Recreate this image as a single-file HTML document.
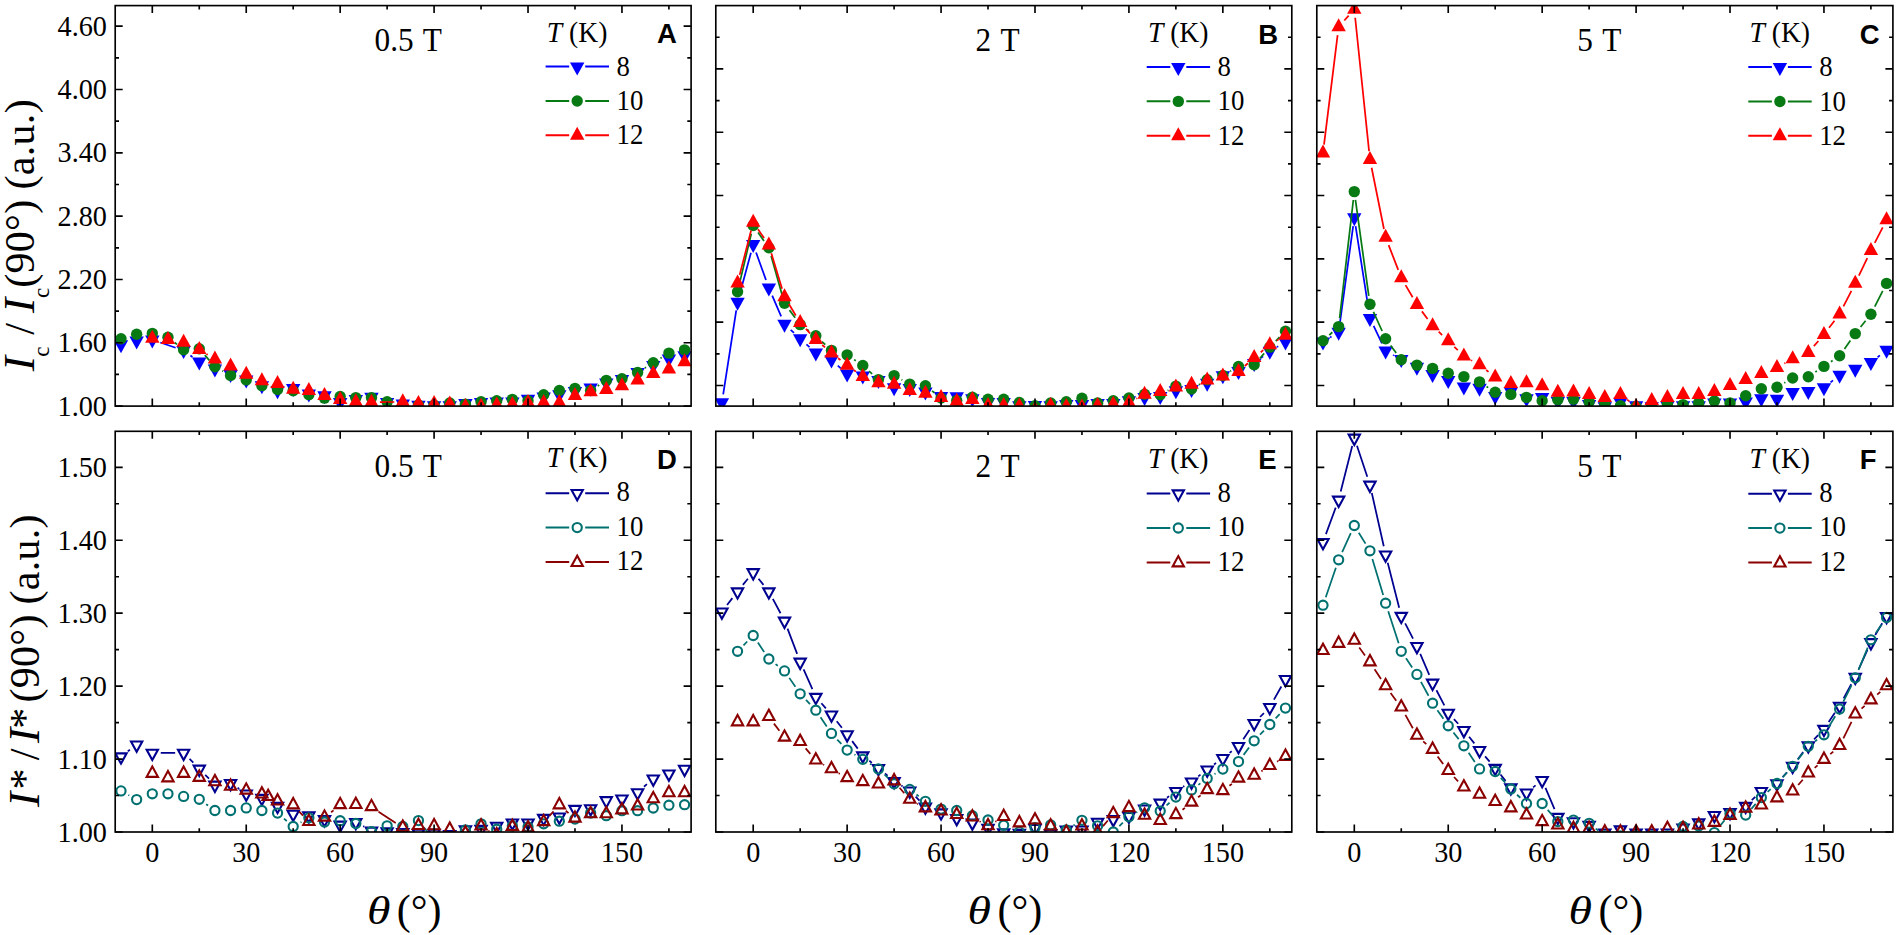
<!DOCTYPE html>
<html><head><meta charset="utf-8"><title>Figure</title>
<style>
html,body{margin:0;padding:0;background:#fff}
svg{display:block}
text{font-family:"Liberation Serif", "Times New Roman", serif;fill:#000}
.tk{font-size:28.2px}
.ft{font-size:31.3px}
.lg{font-size:26.8px}
.at{font-size:42px}
.sub{font-size:24px}
.pl{font-family:"Liberation Sans", Arial, sans-serif;font-weight:bold;font-size:27.5px}
</style></head><body>
<svg width="1900" height="935" viewBox="0 0 1900 935">
<rect width="1900" height="935" fill="#fff"/>
<defs>
<clipPath id="c00"><rect x="115.2" y="5.6" width="575.9" height="400.5"/></clipPath>
<clipPath id="c01"><rect x="115.2" y="431.3" width="575.9" height="400.7"/></clipPath>
<clipPath id="c10"><rect x="715.8" y="5.6" width="576" height="400.5"/></clipPath>
<clipPath id="c11"><rect x="715.8" y="431.3" width="576" height="400.7"/></clipPath>
<clipPath id="c20"><rect x="1316.8" y="5.6" width="576.1" height="400.5"/></clipPath>
<clipPath id="c21"><rect x="1316.8" y="431.3" width="576.1" height="400.7"/></clipPath>
</defs>
<g clip-path="url(#c00)">
<path d="M160.3 342.54L175.61 347.72M190.4 355.46L192.48 357" fill="none" stroke="#0000ff" stroke-width="1.75"/>
<path d="M113.79 340.2L128.19 340.2L120.99 353.2Z" fill="#0000ff"/>
<path d="M129.45 336.6L143.84 336.6L136.65 349.6Z" fill="#0000ff"/>
<path d="M145.1 335.4L159.5 335.4L152.3 348.4Z" fill="#0000ff"/>
<path d="M176.41 346L190.81 346L183.61 359Z" fill="#0000ff"/>
<path d="M192.07 357.6L206.47 357.6L199.27 370.6Z" fill="#0000ff"/>
<path d="M207.72 364.6L222.12 364.6L214.92 377.6Z" fill="#0000ff"/>
<path d="M223.38 370L237.77 370L230.57 383Z" fill="#0000ff"/>
<path d="M239.03 375.5L253.43 375.5L246.23 388.5Z" fill="#0000ff"/>
<path d="M254.69 381.3L269.08 381.3L261.88 394.3Z" fill="#0000ff"/>
<path d="M270.34 386.2L284.74 386.2L277.54 399.2Z" fill="#0000ff"/>
<path d="M286 383.9L300.39 383.9L293.19 396.9Z" fill="#0000ff"/>
<path d="M301.65 389.5L316.05 389.5L308.85 402.5Z" fill="#0000ff"/>
<path d="M317.31 391.2L331.7 391.2L324.5 404.2Z" fill="#0000ff"/>
<path d="M332.96 398L347.36 398L340.16 411Z" fill="#0000ff"/>
<path d="M348.62 394.9L363.01 394.9L355.81 407.9Z" fill="#0000ff"/>
<path d="M364.27 392.8L378.67 392.8L371.47 405.8Z" fill="#0000ff"/>
<path d="M379.93 398L394.32 398L387.12 411Z" fill="#0000ff"/>
<path d="M395.58 399.6L409.98 399.6L402.78 412.6Z" fill="#0000ff"/>
<path d="M411.24 400.7L425.63 400.7L418.44 413.7Z" fill="#0000ff"/>
<path d="M426.89 401.2L441.29 401.2L434.09 414.2Z" fill="#0000ff"/>
<path d="M442.55 401.2L456.94 401.2L449.75 414.2Z" fill="#0000ff"/>
<path d="M458.2 399.1L472.6 399.1L465.4 412.1Z" fill="#0000ff"/>
<path d="M473.86 398L488.25 398L481.06 411Z" fill="#0000ff"/>
<path d="M489.51 397.5L503.91 397.5L496.71 410.5Z" fill="#0000ff"/>
<path d="M505.17 397.5L519.57 397.5L512.37 410.5Z" fill="#0000ff"/>
<path d="M520.82 394.8L535.22 394.8L528.02 407.8Z" fill="#0000ff"/>
<path d="M536.47 392.5L550.88 392.5L543.67 405.5Z" fill="#0000ff"/>
<path d="M552.13 390.3L566.53 390.3L559.33 403.3Z" fill="#0000ff"/>
<path d="M567.78 387.1L582.18 387.1L574.98 400.1Z" fill="#0000ff"/>
<path d="M583.44 383.4L597.84 383.4L590.64 396.4Z" fill="#0000ff"/>
<path d="M599.09 378.6L613.5 378.6L606.29 391.6Z" fill="#0000ff"/>
<path d="M614.75 375L629.15 375L621.95 388Z" fill="#0000ff"/>
<path d="M630.4 367.9L644.81 367.9L637.61 380.9Z" fill="#0000ff"/>
<path d="M646.06 360.9L660.46 360.9L653.26 373.9Z" fill="#0000ff"/>
<path d="M661.71 354.5L676.12 354.5L668.91 367.5Z" fill="#0000ff"/>
<path d="M677.37 351.3L691.77 351.3L684.57 364.3Z" fill="#0000ff"/>
<path d="M174.56 342.47L177.01 344.43M204.81 355.18L209.37 360.42M222.33 370.87L223.17 371.33M597.74 385.92L599.19 384.98M644.79 367.95L646.08 367.15M660.46 358.28L661.71 357.52" fill="none" stroke="#087a14" stroke-width="1.75"/>
<circle cx="120.99" cy="338.8" r="5.7" fill="#087a14"/>
<circle cx="136.65" cy="334.3" r="5.7" fill="#087a14"/>
<circle cx="152.3" cy="333.4" r="5.7" fill="#087a14"/>
<circle cx="167.96" cy="337.2" r="5.7" fill="#087a14"/>
<circle cx="183.61" cy="349.7" r="5.7" fill="#087a14"/>
<circle cx="199.27" cy="348.8" r="5.7" fill="#087a14"/>
<circle cx="214.92" cy="366.8" r="5.7" fill="#087a14"/>
<circle cx="230.57" cy="375.4" r="5.7" fill="#087a14"/>
<circle cx="246.23" cy="379.9" r="5.7" fill="#087a14"/>
<circle cx="261.88" cy="385.6" r="5.7" fill="#087a14"/>
<circle cx="277.54" cy="389.5" r="5.7" fill="#087a14"/>
<circle cx="293.19" cy="390.8" r="5.7" fill="#087a14"/>
<circle cx="308.85" cy="394.6" r="5.7" fill="#087a14"/>
<circle cx="324.5" cy="398.1" r="5.7" fill="#087a14"/>
<circle cx="340.16" cy="396.5" r="5.7" fill="#087a14"/>
<circle cx="355.81" cy="397.6" r="5.7" fill="#087a14"/>
<circle cx="371.47" cy="397.6" r="5.7" fill="#087a14"/>
<circle cx="387.12" cy="401.8" r="5.7" fill="#087a14"/>
<circle cx="402.78" cy="405" r="5.7" fill="#087a14"/>
<circle cx="418.44" cy="405" r="5.7" fill="#087a14"/>
<circle cx="434.09" cy="405" r="5.7" fill="#087a14"/>
<circle cx="449.75" cy="403" r="5.7" fill="#087a14"/>
<circle cx="465.4" cy="404.1" r="5.7" fill="#087a14"/>
<circle cx="481.06" cy="401.8" r="5.7" fill="#087a14"/>
<circle cx="496.71" cy="400.7" r="5.7" fill="#087a14"/>
<circle cx="512.37" cy="399.4" r="5.7" fill="#087a14"/>
<circle cx="528.02" cy="400.7" r="5.7" fill="#087a14"/>
<circle cx="543.67" cy="394.8" r="5.7" fill="#087a14"/>
<circle cx="559.33" cy="390.5" r="5.7" fill="#087a14"/>
<circle cx="574.98" cy="388.4" r="5.7" fill="#087a14"/>
<circle cx="590.64" cy="390.5" r="5.7" fill="#087a14"/>
<circle cx="606.29" cy="380.4" r="5.7" fill="#087a14"/>
<circle cx="621.95" cy="378.8" r="5.7" fill="#087a14"/>
<circle cx="637.61" cy="372.4" r="5.7" fill="#087a14"/>
<circle cx="653.26" cy="362.7" r="5.7" fill="#087a14"/>
<circle cx="668.91" cy="353.1" r="5.7" fill="#087a14"/>
<circle cx="684.57" cy="349.9" r="5.7" fill="#087a14"/>
<path d="M206.47 353.89L207.72 354.65M379.92 402.24L394.33 402" fill="none" stroke="#ff0000" stroke-width="1.75"/>
<path d="M145.1 342.7L159.5 342.7L152.3 329.7Z" fill="#ff0000"/>
<path d="M160.76 344L175.16 344L167.96 331Z" fill="#ff0000"/>
<path d="M176.41 346.8L190.81 346.8L183.61 333.8Z" fill="#ff0000"/>
<path d="M192.07 353.9L206.47 353.9L199.27 340.9Z" fill="#ff0000"/>
<path d="M207.72 363.5L222.12 363.5L214.92 350.5Z" fill="#ff0000"/>
<path d="M223.38 370.6L237.77 370.6L230.57 357.6Z" fill="#ff0000"/>
<path d="M239.03 378.7L253.43 378.7L246.23 365.7Z" fill="#ff0000"/>
<path d="M254.69 385.3L269.08 385.3L261.88 372.3Z" fill="#ff0000"/>
<path d="M270.34 387.9L284.74 387.9L277.54 374.9Z" fill="#ff0000"/>
<path d="M286 393.7L300.39 393.7L293.19 380.7Z" fill="#ff0000"/>
<path d="M301.65 395.1L316.05 395.1L308.85 382.1Z" fill="#ff0000"/>
<path d="M317.31 400L331.7 400L324.5 387Z" fill="#ff0000"/>
<path d="M332.96 404.1L347.36 404.1L340.16 391.1Z" fill="#ff0000"/>
<path d="M348.62 406.3L363.01 406.3L355.81 393.3Z" fill="#ff0000"/>
<path d="M364.27 406.8L378.67 406.8L371.47 393.8Z" fill="#ff0000"/>
<path d="M395.58 406.3L409.98 406.3L402.78 393.3Z" fill="#ff0000"/>
<path d="M411.24 407.9L425.63 407.9L418.44 394.9Z" fill="#ff0000"/>
<path d="M426.89 408.1L441.29 408.1L434.09 395.1Z" fill="#ff0000"/>
<path d="M442.55 408.4L456.94 408.4L449.75 395.4Z" fill="#ff0000"/>
<path d="M458.2 411L472.6 411L465.4 398Z" fill="#ff0000"/>
<path d="M473.86 410.8L488.25 410.8L481.06 397.8Z" fill="#ff0000"/>
<path d="M489.51 409.4L503.91 409.4L496.71 396.4Z" fill="#ff0000"/>
<path d="M505.17 409L519.57 409L512.37 396Z" fill="#ff0000"/>
<path d="M520.82 407.1L535.22 407.1L528.02 394.1Z" fill="#ff0000"/>
<path d="M536.47 407.1L550.88 407.1L543.67 394.1Z" fill="#ff0000"/>
<path d="M552.13 407.1L566.53 407.1L559.33 394.1Z" fill="#ff0000"/>
<path d="M567.78 400L582.18 400L574.98 387Z" fill="#ff0000"/>
<path d="M583.44 396.2L597.84 396.2L590.64 383.2Z" fill="#ff0000"/>
<path d="M599.09 394.1L613.5 394.1L606.29 381.1Z" fill="#ff0000"/>
<path d="M614.75 390.3L629.15 390.3L621.95 377.3Z" fill="#ff0000"/>
<path d="M630.4 384.5L644.81 384.5L637.61 371.5Z" fill="#ff0000"/>
<path d="M646.06 378.1L660.46 378.1L653.26 365.1Z" fill="#ff0000"/>
<path d="M661.71 373.4L676.12 373.4L668.91 360.4Z" fill="#ff0000"/>
<path d="M677.37 366.2L691.77 366.2L684.57 353.2Z" fill="#ff0000"/>
</g>
<path d="M152.3 5.6v7.5M152.3 406.1v-7.5M199.27 5.6v3.8M199.27 406.1v-3.8M246.23 5.6v7.5M246.23 406.1v-7.5M293.19 5.6v3.8M293.19 406.1v-3.8M340.16 5.6v7.5M340.16 406.1v-7.5M387.12 5.6v3.8M387.12 406.1v-3.8M434.09 5.6v7.5M434.09 406.1v-7.5M481.06 5.6v3.8M481.06 406.1v-3.8M528.02 5.6v7.5M528.02 406.1v-7.5M574.98 5.6v3.8M574.98 406.1v-3.8M621.95 5.6v7.5M621.95 406.1v-7.5M668.91 5.6v3.8M668.91 406.1v-3.8M115.2 406.1h7.5M691.1 406.1h-7.5M115.2 374.44h3.8M691.1 374.44h-3.8M115.2 342.78h7.5M691.1 342.78h-7.5M115.2 311.12h3.8M691.1 311.12h-3.8M115.2 279.46h7.5M691.1 279.46h-7.5M115.2 247.8h3.8M691.1 247.8h-3.8M115.2 216.14h7.5M691.1 216.14h-7.5M115.2 184.48h3.8M691.1 184.48h-3.8M115.2 152.82h7.5M691.1 152.82h-7.5M115.2 121.16h3.8M691.1 121.16h-3.8M115.2 89.5h7.5M691.1 89.5h-7.5M115.2 57.84h3.8M691.1 57.84h-3.8M115.2 26.18h7.5M691.1 26.18h-7.5" stroke="#000" stroke-width="1.65" fill="none"/>
<rect x="115.2" y="5.6" width="575.9" height="400.5" fill="none" stroke="#000" stroke-width="1.65"/>
<text transform="translate(106.9 415.7) scale(1 1.06)" text-anchor="end" class="tk">1.00</text>
<text transform="translate(106.9 352.38) scale(1 1.06)" text-anchor="end" class="tk">1.60</text>
<text transform="translate(106.9 289.06) scale(1 1.06)" text-anchor="end" class="tk">2.20</text>
<text transform="translate(106.9 225.74) scale(1 1.06)" text-anchor="end" class="tk">2.80</text>
<text transform="translate(106.9 162.42) scale(1 1.06)" text-anchor="end" class="tk">3.40</text>
<text transform="translate(106.9 99.1) scale(1 1.06)" text-anchor="end" class="tk">4.00</text>
<text transform="translate(106.9 35.78) scale(1 1.06)" text-anchor="end" class="tk">4.60</text>
<text transform="translate(374.5 50.8) scale(1 1.1)" class="ft">0.5 <tspan dx="1.35">T</tspan></text>
<text transform="translate(546.8 41.5) scale(1 1.04)" class="lg" style="font-size:27.6px"><tspan font-style="italic">T</tspan> (K)</text>
<path d="M545.6 66.5H569.2M585.2 66.5H609" stroke="#0000ff" stroke-width="2.0"/>
<path d="M570 62.6L584.4 62.6L577.2 75.6Z" fill="#0000ff"/>
<text transform="translate(616.5 75.6) scale(1 1.08)" class="lg">8</text>
<path d="M545.6 100.9H569.2M585.2 100.9H609" stroke="#087a14" stroke-width="2.0"/>
<circle cx="577.2" cy="101" r="5.7" fill="#087a14"/>
<text transform="translate(616.5 110) scale(1 1.08)" class="lg">10</text>
<path d="M545.6 135.3H569.2M585.2 135.3H609" stroke="#ff0000" stroke-width="2.0"/>
<path d="M570 139.8L584.4 139.8L577.2 126.8Z" fill="#ff0000"/>
<text transform="translate(616.5 144.4) scale(1 1.08)" class="lg">12</text>
<text x="657.1" y="43.2" class="pl">A</text>
<g clip-path="url(#c10)">
<path d="M723.19 394.38L736.25 310.48M739.76 293.98L750.98 252.68M756.07 252.48L765.99 279.98M772.21 295.69L781.16 316.37M790.69 329.89L793.99 332.97M806.44 344.39L809.54 347.17M837.79 365.64L840.81 368.32M1260.85 358.16L1263.13 356.4M1277.08 346.91L1278.21 346.25" fill="none" stroke="#0000ff" stroke-width="1.75"/>
<path d="M714.69 398.3L729.09 398.3L721.89 411.3Z" fill="#0000ff"/>
<path d="M730.35 297.7L744.75 297.7L737.55 310.7Z" fill="#0000ff"/>
<path d="M746 240.1L760.4 240.1L753.2 253.1Z" fill="#0000ff"/>
<path d="M761.65 283.5L776.06 283.5L768.86 296.5Z" fill="#0000ff"/>
<path d="M777.31 319.7L791.71 319.7L784.51 332.7Z" fill="#0000ff"/>
<path d="M792.97 334.3L807.37 334.3L800.17 347.3Z" fill="#0000ff"/>
<path d="M808.62 348.4L823.02 348.4L815.82 361.4Z" fill="#0000ff"/>
<path d="M824.27 355.6L838.68 355.6L831.48 368.6Z" fill="#0000ff"/>
<path d="M839.93 369.5L854.33 369.5L847.13 382.5Z" fill="#0000ff"/>
<path d="M855.59 371.5L869.99 371.5L862.79 384.5Z" fill="#0000ff"/>
<path d="M871.24 376L885.64 376L878.44 389Z" fill="#0000ff"/>
<path d="M886.89 383.2L901.3 383.2L894.1 396.2Z" fill="#0000ff"/>
<path d="M902.55 383.9L916.95 383.9L909.75 396.9Z" fill="#0000ff"/>
<path d="M918.2 387.6L932.61 387.6L925.4 400.6Z" fill="#0000ff"/>
<path d="M933.86 391.9L948.26 391.9L941.06 404.9Z" fill="#0000ff"/>
<path d="M949.51 392.2L963.92 392.2L956.72 405.2Z" fill="#0000ff"/>
<path d="M965.17 394.3L979.57 394.3L972.37 407.3Z" fill="#0000ff"/>
<path d="M980.83 398L995.23 398L988.03 411Z" fill="#0000ff"/>
<path d="M996.48 398L1010.88 398L1003.68 411Z" fill="#0000ff"/>
<path d="M1012.13 401.2L1026.54 401.2L1019.34 414.2Z" fill="#0000ff"/>
<path d="M1027.79 401L1042.19 401L1034.99 414Z" fill="#0000ff"/>
<path d="M1043.44 401.2L1057.85 401.2L1050.64 414.2Z" fill="#0000ff"/>
<path d="M1059.1 400.1L1073.5 400.1L1066.3 413.1Z" fill="#0000ff"/>
<path d="M1074.75 400.1L1089.15 400.1L1081.95 413.1Z" fill="#0000ff"/>
<path d="M1090.41 399.1L1104.81 399.1L1097.61 412.1Z" fill="#0000ff"/>
<path d="M1106.07 399L1120.47 399L1113.27 412Z" fill="#0000ff"/>
<path d="M1121.72 396.2L1136.12 396.2L1128.92 409.2Z" fill="#0000ff"/>
<path d="M1137.38 393.1L1151.78 393.1L1144.58 406.1Z" fill="#0000ff"/>
<path d="M1153.03 392.1L1167.43 392.1L1160.23 405.1Z" fill="#0000ff"/>
<path d="M1168.68 386.2L1183.09 386.2L1175.88 399.2Z" fill="#0000ff"/>
<path d="M1184.34 385.1L1198.74 385.1L1191.54 398.1Z" fill="#0000ff"/>
<path d="M1199.99 378.7L1214.39 378.7L1207.19 391.7Z" fill="#0000ff"/>
<path d="M1215.65 371.2L1230.05 371.2L1222.85 384.2Z" fill="#0000ff"/>
<path d="M1231.31 366.9L1245.71 366.9L1238.51 379.9Z" fill="#0000ff"/>
<path d="M1246.96 358.9L1261.36 358.9L1254.16 371.9Z" fill="#0000ff"/>
<path d="M1262.62 346.8L1277.02 346.8L1269.82 359.8Z" fill="#0000ff"/>
<path d="M1278.27 337.5L1292.67 337.5L1285.47 350.5Z" fill="#0000ff"/>
<path d="M739.49 283.58L751.26 233.72M758.06 232.42L764 240.88M771.15 255.93L782.22 295.17M789.51 310.11L795.16 317.79M807.04 329.52L808.95 330.88M822 341.56L825.3 344.64M854.13 359.64L855.79 360.76M869.06 371.16L872.16 373.94M901.52 379.63L902.32 380.07M932.05 390.92L934.42 392.78M1167.64 390.63L1168.48 390.17M1198.8 384.68L1199.93 384.02M1230.18 371.29L1231.18 370.71M1259.76 358.47L1264.22 353.43M1275.74 341.08L1279.54 337.22" fill="none" stroke="#087a14" stroke-width="1.75"/>
<circle cx="737.55" cy="291.8" r="5.7" fill="#087a14"/>
<circle cx="753.2" cy="225.5" r="5.7" fill="#087a14"/>
<circle cx="768.86" cy="247.8" r="5.7" fill="#087a14"/>
<circle cx="784.51" cy="303.3" r="5.7" fill="#087a14"/>
<circle cx="800.17" cy="324.6" r="5.7" fill="#087a14"/>
<circle cx="815.82" cy="335.8" r="5.7" fill="#087a14"/>
<circle cx="831.48" cy="350.4" r="5.7" fill="#087a14"/>
<circle cx="847.13" cy="354.9" r="5.7" fill="#087a14"/>
<circle cx="862.79" cy="365.5" r="5.7" fill="#087a14"/>
<circle cx="878.44" cy="379.6" r="5.7" fill="#087a14"/>
<circle cx="894.1" cy="375.6" r="5.7" fill="#087a14"/>
<circle cx="909.75" cy="384.1" r="5.7" fill="#087a14"/>
<circle cx="925.4" cy="385.7" r="5.7" fill="#087a14"/>
<circle cx="941.06" cy="398" r="5.7" fill="#087a14"/>
<circle cx="956.72" cy="400.5" r="5.7" fill="#087a14"/>
<circle cx="972.37" cy="397.3" r="5.7" fill="#087a14"/>
<circle cx="988.03" cy="399.2" r="5.7" fill="#087a14"/>
<circle cx="1003.68" cy="399.2" r="5.7" fill="#087a14"/>
<circle cx="1019.34" cy="402.5" r="5.7" fill="#087a14"/>
<circle cx="1034.99" cy="405.7" r="5.7" fill="#087a14"/>
<circle cx="1050.64" cy="403" r="5.7" fill="#087a14"/>
<circle cx="1066.3" cy="401.8" r="5.7" fill="#087a14"/>
<circle cx="1081.95" cy="398.3" r="5.7" fill="#087a14"/>
<circle cx="1097.61" cy="403" r="5.7" fill="#087a14"/>
<circle cx="1113.27" cy="400.7" r="5.7" fill="#087a14"/>
<circle cx="1128.92" cy="398" r="5.7" fill="#087a14"/>
<circle cx="1144.58" cy="394.2" r="5.7" fill="#087a14"/>
<circle cx="1160.23" cy="394.7" r="5.7" fill="#087a14"/>
<circle cx="1175.88" cy="386.1" r="5.7" fill="#087a14"/>
<circle cx="1191.54" cy="389" r="5.7" fill="#087a14"/>
<circle cx="1207.19" cy="379.7" r="5.7" fill="#087a14"/>
<circle cx="1222.85" cy="375.5" r="5.7" fill="#087a14"/>
<circle cx="1238.51" cy="366.5" r="5.7" fill="#087a14"/>
<circle cx="1254.16" cy="364.8" r="5.7" fill="#087a14"/>
<circle cx="1269.82" cy="347.1" r="5.7" fill="#087a14"/>
<circle cx="1285.47" cy="331.2" r="5.7" fill="#087a14"/>
<path d="M739.66 274.89L751.09 230.55M758 229.33L764.06 238.11M771.3 253.16L782.06 288.68M788.88 304L795.79 315.44M805.93 328.85L810.06 333.29M822.22 344.99L825.08 347.45M838.12 358.19L840.49 360.05M853.98 370.22L855.93 371.62M1136.37 398.67L1137.13 398.27M1244.78 366.01L1247.88 363.23M1260.72 352.25L1263.25 350.19M1277.02 340.45L1278.27 339.69" fill="none" stroke="#ff0000" stroke-width="1.75"/>
<path d="M730.35 287.5L744.75 287.5L737.55 274.5Z" fill="#ff0000"/>
<path d="M746 226.8L760.4 226.8L753.2 213.8Z" fill="#ff0000"/>
<path d="M761.65 249.5L776.06 249.5L768.86 236.5Z" fill="#ff0000"/>
<path d="M777.31 301.2L791.71 301.2L784.51 288.2Z" fill="#ff0000"/>
<path d="M792.97 327.1L807.37 327.1L800.17 314.1Z" fill="#ff0000"/>
<path d="M808.62 343.9L823.02 343.9L815.82 330.9Z" fill="#ff0000"/>
<path d="M824.27 357.4L838.68 357.4L831.48 344.4Z" fill="#ff0000"/>
<path d="M839.93 369.7L854.33 369.7L847.13 356.7Z" fill="#ff0000"/>
<path d="M855.59 381L869.99 381L862.79 368Z" fill="#ff0000"/>
<path d="M871.24 387.2L885.64 387.2L878.44 374.2Z" fill="#ff0000"/>
<path d="M886.89 388.8L901.3 388.8L894.1 375.8Z" fill="#ff0000"/>
<path d="M902.55 394.9L916.95 394.9L909.75 381.9Z" fill="#ff0000"/>
<path d="M918.2 397.8L932.61 397.8L925.4 384.8Z" fill="#ff0000"/>
<path d="M933.86 401.9L948.26 401.9L941.06 388.9Z" fill="#ff0000"/>
<path d="M949.51 405.8L963.92 405.8L956.72 392.8Z" fill="#ff0000"/>
<path d="M965.17 404.1L979.57 404.1L972.37 391.1Z" fill="#ff0000"/>
<path d="M980.83 410L995.23 410L988.03 397Z" fill="#ff0000"/>
<path d="M996.48 410L1010.88 410L1003.68 397Z" fill="#ff0000"/>
<path d="M1012.13 410.5L1026.54 410.5L1019.34 397.5Z" fill="#ff0000"/>
<path d="M1027.79 414.2L1042.19 414.2L1034.99 401.2Z" fill="#ff0000"/>
<path d="M1043.44 410L1057.85 410L1050.64 397Z" fill="#ff0000"/>
<path d="M1059.1 411L1073.5 411L1066.3 398Z" fill="#ff0000"/>
<path d="M1074.75 411.5L1089.15 411.5L1081.95 398.5Z" fill="#ff0000"/>
<path d="M1090.41 410L1104.81 410L1097.61 397Z" fill="#ff0000"/>
<path d="M1106.07 408.7L1120.47 408.7L1113.27 395.7Z" fill="#ff0000"/>
<path d="M1121.72 407.1L1136.12 407.1L1128.92 394.1Z" fill="#ff0000"/>
<path d="M1137.38 398.7L1151.78 398.7L1144.58 385.7Z" fill="#ff0000"/>
<path d="M1153.03 395.9L1167.43 395.9L1160.23 382.9Z" fill="#ff0000"/>
<path d="M1168.68 391.6L1183.09 391.6L1175.88 378.6Z" fill="#ff0000"/>
<path d="M1184.34 388.7L1198.74 388.7L1191.54 375.7Z" fill="#ff0000"/>
<path d="M1199.99 384.4L1214.39 384.4L1207.19 371.4Z" fill="#ff0000"/>
<path d="M1215.65 380.4L1230.05 380.4L1222.85 367.4Z" fill="#ff0000"/>
<path d="M1231.31 376.1L1245.71 376.1L1238.51 363.1Z" fill="#ff0000"/>
<path d="M1246.96 362L1261.36 362L1254.16 349Z" fill="#ff0000"/>
<path d="M1262.62 349.3L1277.02 349.3L1269.82 336.3Z" fill="#ff0000"/>
<path d="M1278.27 339.7L1292.67 339.7L1285.47 326.7Z" fill="#ff0000"/>
</g>
<path d="M753.2 5.6v7.5M753.2 406.1v-7.5M800.17 5.6v3.8M800.17 406.1v-3.8M847.13 5.6v7.5M847.13 406.1v-7.5M894.1 5.6v3.8M894.1 406.1v-3.8M941.06 5.6v7.5M941.06 406.1v-7.5M988.03 5.6v3.8M988.03 406.1v-3.8M1034.99 5.6v7.5M1034.99 406.1v-7.5M1081.95 5.6v3.8M1081.95 406.1v-3.8M1128.92 5.6v7.5M1128.92 406.1v-7.5M1175.88 5.6v3.8M1175.88 406.1v-3.8M1222.85 5.6v7.5M1222.85 406.1v-7.5M1269.82 5.6v3.8M1269.82 406.1v-3.8M715.8 385.5h7.5M1291.8 385.5h-7.5M715.8 353.84h3.8M1291.8 353.84h-3.8M715.8 322.18h7.5M1291.8 322.18h-7.5M715.8 290.52h3.8M1291.8 290.52h-3.8M715.8 258.86h7.5M1291.8 258.86h-7.5M715.8 227.2h3.8M1291.8 227.2h-3.8M715.8 195.54h7.5M1291.8 195.54h-7.5M715.8 163.88h3.8M1291.8 163.88h-3.8M715.8 132.22h7.5M1291.8 132.22h-7.5M715.8 100.56h3.8M1291.8 100.56h-3.8M715.8 68.9h7.5M1291.8 68.9h-7.5M715.8 37.24h3.8M1291.8 37.24h-3.8" stroke="#000" stroke-width="1.65" fill="none"/>
<rect x="715.8" y="5.6" width="576" height="400.5" fill="none" stroke="#000" stroke-width="1.65"/>
<text transform="translate(975.6 51.2) scale(1 1.1)" class="ft">2 <tspan dx="1.5">T</tspan></text>
<text transform="translate(1147.9 41.9) scale(1 1.04)" class="lg" style="font-size:27.6px"><tspan font-style="italic">T</tspan> (K)</text>
<path d="M1146.7 66.9H1170.3M1186.3 66.9H1210.1" stroke="#0000ff" stroke-width="2.0"/>
<path d="M1171.1 63L1185.5 63L1178.3 76Z" fill="#0000ff"/>
<text transform="translate(1217.6 76) scale(1 1.08)" class="lg">8</text>
<path d="M1146.7 101.3H1170.3M1186.3 101.3H1210.1" stroke="#087a14" stroke-width="2.0"/>
<circle cx="1178.3" cy="101.4" r="5.7" fill="#087a14"/>
<text transform="translate(1217.6 110.4) scale(1 1.08)" class="lg">10</text>
<path d="M1146.7 135.7H1170.3M1186.3 135.7H1210.1" stroke="#ff0000" stroke-width="2.0"/>
<path d="M1171.1 140.2L1185.5 140.2L1178.3 127.2Z" fill="#ff0000"/>
<text transform="translate(1217.6 144.8) scale(1 1.08)" class="lg">12</text>
<text x="1258.2" y="43.6" class="pl">B</text>
<g clip-path="url(#c20)">
<path d="M1330.15 337.45L1331.48 336.61M1339.79 323.76L1353.15 226.1M1355.6 226.08L1368.66 309.98M1373.61 325.95L1381.95 343.31M1393.04 354.96L1393.84 355.4M1830.53 382.43L1833.02 380.43M1877.58 357.24L1879.9 355.42" fill="none" stroke="#0000ff" stroke-width="1.75"/>
<path d="M1315.79 337.5L1330.19 337.5L1322.99 350.5Z" fill="#0000ff"/>
<path d="M1331.44 327.7L1345.85 327.7L1338.64 340.7Z" fill="#0000ff"/>
<path d="M1347.1 213.3L1361.5 213.3L1354.3 226.3Z" fill="#0000ff"/>
<path d="M1362.75 313.9L1377.15 313.9L1369.95 326.9Z" fill="#0000ff"/>
<path d="M1378.41 346.5L1392.81 346.5L1385.61 359.5Z" fill="#0000ff"/>
<path d="M1394.06 355L1408.46 355L1401.26 368Z" fill="#0000ff"/>
<path d="M1409.72 362.8L1424.12 362.8L1416.92 375.8Z" fill="#0000ff"/>
<path d="M1425.38 370L1439.78 370L1432.58 383Z" fill="#0000ff"/>
<path d="M1441.03 375.9L1455.43 375.9L1448.23 388.9Z" fill="#0000ff"/>
<path d="M1456.68 382.5L1471.09 382.5L1463.88 395.5Z" fill="#0000ff"/>
<path d="M1472.34 383.7L1486.74 383.7L1479.54 396.7Z" fill="#0000ff"/>
<path d="M1487.99 391.9L1502.39 391.9L1495.19 404.9Z" fill="#0000ff"/>
<path d="M1503.65 387.2L1518.05 387.2L1510.85 400.2Z" fill="#0000ff"/>
<path d="M1519.3 394.3L1533.7 394.3L1526.5 407.3Z" fill="#0000ff"/>
<path d="M1534.96 392.9L1549.36 392.9L1542.16 405.9Z" fill="#0000ff"/>
<path d="M1550.62 397L1565.02 397L1557.82 410Z" fill="#0000ff"/>
<path d="M1566.27 397L1580.67 397L1573.47 410Z" fill="#0000ff"/>
<path d="M1581.92 400.1L1596.33 400.1L1589.12 413.1Z" fill="#0000ff"/>
<path d="M1597.58 402.2L1611.98 402.2L1604.78 415.2Z" fill="#0000ff"/>
<path d="M1613.23 397.8L1627.63 397.8L1620.43 410.8Z" fill="#0000ff"/>
<path d="M1628.89 401.2L1643.29 401.2L1636.09 414.2Z" fill="#0000ff"/>
<path d="M1644.54 402.2L1658.94 402.2L1651.74 415.2Z" fill="#0000ff"/>
<path d="M1660.2 401.2L1674.6 401.2L1667.4 414.2Z" fill="#0000ff"/>
<path d="M1675.85 401.2L1690.25 401.2L1683.05 414.2Z" fill="#0000ff"/>
<path d="M1691.51 401.2L1705.91 401.2L1698.71 414.2Z" fill="#0000ff"/>
<path d="M1707.16 398.5L1721.57 398.5L1714.37 411.5Z" fill="#0000ff"/>
<path d="M1722.82 398.5L1737.22 398.5L1730.02 411.5Z" fill="#0000ff"/>
<path d="M1738.47 397.5L1752.88 397.5L1745.67 410.5Z" fill="#0000ff"/>
<path d="M1754.13 394.2L1768.53 394.2L1761.33 407.2Z" fill="#0000ff"/>
<path d="M1769.78 394.7L1784.18 394.7L1776.98 407.7Z" fill="#0000ff"/>
<path d="M1785.44 387.9L1799.84 387.9L1792.64 400.9Z" fill="#0000ff"/>
<path d="M1801.09 386.9L1815.49 386.9L1808.29 399.9Z" fill="#0000ff"/>
<path d="M1816.75 383.3L1831.15 383.3L1823.95 396.3Z" fill="#0000ff"/>
<path d="M1832.4 370.7L1846.81 370.7L1839.61 383.7Z" fill="#0000ff"/>
<path d="M1848.06 364.8L1862.46 364.8L1855.26 377.8Z" fill="#0000ff"/>
<path d="M1863.71 358L1878.12 358L1870.91 371Z" fill="#0000ff"/>
<path d="M1879.37 345.8L1893.77 345.8L1886.57 358.8Z" fill="#0000ff"/>
<path d="M1329.27 335.04L1332.37 332.26M1339.62 318.21L1353.33 199.99M1355.46 199.97L1368.79 295.83M1373.45 311.89L1382.12 331.01M1390.66 345.47L1396.21 352.93M1486.58 386.58L1488.16 387.62M1784.27 382.92L1785.35 382.28M1815.35 372.06L1816.89 371.04M1830.95 361.66L1832.61 360.54M1844.47 348.89L1850.39 340.51M1860.57 327.02L1865.61 320.78M1874.74 306.67L1882.74 290.93" fill="none" stroke="#087a14" stroke-width="1.75"/>
<circle cx="1322.99" cy="340.7" r="5.7" fill="#087a14"/>
<circle cx="1338.64" cy="326.6" r="5.7" fill="#087a14"/>
<circle cx="1354.3" cy="191.6" r="5.7" fill="#087a14"/>
<circle cx="1369.95" cy="304.2" r="5.7" fill="#087a14"/>
<circle cx="1385.61" cy="338.7" r="5.7" fill="#087a14"/>
<circle cx="1401.26" cy="359.7" r="5.7" fill="#087a14"/>
<circle cx="1416.92" cy="365.1" r="5.7" fill="#087a14"/>
<circle cx="1432.58" cy="368.4" r="5.7" fill="#087a14"/>
<circle cx="1448.23" cy="373.2" r="5.7" fill="#087a14"/>
<circle cx="1463.88" cy="376.6" r="5.7" fill="#087a14"/>
<circle cx="1479.54" cy="381.9" r="5.7" fill="#087a14"/>
<circle cx="1495.19" cy="392.3" r="5.7" fill="#087a14"/>
<circle cx="1510.85" cy="394.4" r="5.7" fill="#087a14"/>
<circle cx="1526.5" cy="397.4" r="5.7" fill="#087a14"/>
<circle cx="1542.16" cy="400.7" r="5.7" fill="#087a14"/>
<circle cx="1557.82" cy="399.6" r="5.7" fill="#087a14"/>
<circle cx="1573.47" cy="399.3" r="5.7" fill="#087a14"/>
<circle cx="1589.12" cy="401.6" r="5.7" fill="#087a14"/>
<circle cx="1604.78" cy="404" r="5.7" fill="#087a14"/>
<circle cx="1620.43" cy="405.7" r="5.7" fill="#087a14"/>
<circle cx="1636.09" cy="406.5" r="5.7" fill="#087a14"/>
<circle cx="1651.74" cy="406.5" r="5.7" fill="#087a14"/>
<circle cx="1667.4" cy="404" r="5.7" fill="#087a14"/>
<circle cx="1683.05" cy="404.6" r="5.7" fill="#087a14"/>
<circle cx="1698.71" cy="402.9" r="5.7" fill="#087a14"/>
<circle cx="1714.37" cy="401" r="5.7" fill="#087a14"/>
<circle cx="1730.02" cy="403" r="5.7" fill="#087a14"/>
<circle cx="1745.67" cy="395.8" r="5.7" fill="#087a14"/>
<circle cx="1761.33" cy="388.7" r="5.7" fill="#087a14"/>
<circle cx="1776.98" cy="387.2" r="5.7" fill="#087a14"/>
<circle cx="1792.64" cy="378" r="5.7" fill="#087a14"/>
<circle cx="1808.29" cy="376.7" r="5.7" fill="#087a14"/>
<circle cx="1823.95" cy="366.4" r="5.7" fill="#087a14"/>
<circle cx="1839.61" cy="355.8" r="5.7" fill="#087a14"/>
<circle cx="1855.26" cy="333.6" r="5.7" fill="#087a14"/>
<circle cx="1870.91" cy="314.2" r="5.7" fill="#087a14"/>
<circle cx="1886.57" cy="283.4" r="5.7" fill="#087a14"/>
<path d="M1324.03 144.58L1337.6 35.16M1344.3 20.49L1348.65 15.65M1355.18 17.77L1369.08 151.07M1371.62 167.75L1383.94 228.99M1388.66 245.15L1398.22 269.89M1405.53 285.07L1412.66 297.27M1421.92 311.38L1427.57 319.06M1438.68 331.72L1442.13 335.02M1454.29 346.76L1457.82 350.18M1471.25 360.21L1472.17 360.73M1486.21 370.06L1488.53 371.88M1627.12 399.64L1629.4 401.4M1784.33 363.49L1785.29 362.95M1813.84 346.19L1818.4 340.95M1829.06 327.84L1834.49 320.7M1843.45 306.45L1851.41 290.89M1858.89 275.74L1867.28 258.1M1874.76 242.95L1882.72 227.39" fill="none" stroke="#ff0000" stroke-width="1.75"/>
<path d="M1315.79 157.4L1330.19 157.4L1322.99 144.4Z" fill="#ff0000"/>
<path d="M1331.44 31.2L1345.85 31.2L1338.64 18.2Z" fill="#ff0000"/>
<path d="M1347.1 13.8L1361.5 13.8L1354.3 0.8Z" fill="#ff0000"/>
<path d="M1362.75 163.9L1377.15 163.9L1369.95 150.9Z" fill="#ff0000"/>
<path d="M1378.41 241.7L1392.81 241.7L1385.61 228.7Z" fill="#ff0000"/>
<path d="M1394.06 282.2L1408.46 282.2L1401.26 269.2Z" fill="#ff0000"/>
<path d="M1409.72 309L1424.12 309L1416.92 296Z" fill="#ff0000"/>
<path d="M1425.38 330.3L1439.78 330.3L1432.58 317.3Z" fill="#ff0000"/>
<path d="M1441.03 345.3L1455.43 345.3L1448.23 332.3Z" fill="#ff0000"/>
<path d="M1456.68 360.5L1471.09 360.5L1463.88 347.5Z" fill="#ff0000"/>
<path d="M1472.34 369.3L1486.74 369.3L1479.54 356.3Z" fill="#ff0000"/>
<path d="M1487.99 381.5L1502.39 381.5L1495.19 368.5Z" fill="#ff0000"/>
<path d="M1503.65 387.9L1518.05 387.9L1510.85 374.9Z" fill="#ff0000"/>
<path d="M1519.3 387.2L1533.7 387.2L1526.5 374.2Z" fill="#ff0000"/>
<path d="M1534.96 390.3L1549.36 390.3L1542.16 377.3Z" fill="#ff0000"/>
<path d="M1550.62 396.8L1565.02 396.8L1557.82 383.8Z" fill="#ff0000"/>
<path d="M1566.27 396.5L1580.67 396.5L1573.47 383.5Z" fill="#ff0000"/>
<path d="M1581.92 398.9L1596.33 398.9L1589.12 385.9Z" fill="#ff0000"/>
<path d="M1597.58 402.1L1611.98 402.1L1604.78 389.1Z" fill="#ff0000"/>
<path d="M1613.23 398.9L1627.63 398.9L1620.43 385.9Z" fill="#ff0000"/>
<path d="M1628.89 411L1643.29 411L1636.09 398Z" fill="#ff0000"/>
<path d="M1644.54 404.9L1658.94 404.9L1651.74 391.9Z" fill="#ff0000"/>
<path d="M1660.2 402.1L1674.6 402.1L1667.4 389.1Z" fill="#ff0000"/>
<path d="M1675.85 398.9L1690.25 398.9L1683.05 385.9Z" fill="#ff0000"/>
<path d="M1691.51 398.9L1705.91 398.9L1698.71 385.9Z" fill="#ff0000"/>
<path d="M1707.16 396L1721.57 396L1714.37 383Z" fill="#ff0000"/>
<path d="M1722.82 390L1737.22 390L1730.02 377Z" fill="#ff0000"/>
<path d="M1738.47 384L1752.88 384L1745.67 371Z" fill="#ff0000"/>
<path d="M1754.13 377.9L1768.53 377.9L1761.33 364.9Z" fill="#ff0000"/>
<path d="M1769.78 372.1L1784.18 372.1L1776.98 359.1Z" fill="#ff0000"/>
<path d="M1785.44 363.2L1799.84 363.2L1792.64 350.2Z" fill="#ff0000"/>
<path d="M1801.09 357L1815.49 357L1808.29 344Z" fill="#ff0000"/>
<path d="M1816.75 339L1831.15 339L1823.95 326Z" fill="#ff0000"/>
<path d="M1832.4 318.4L1846.81 318.4L1839.61 305.4Z" fill="#ff0000"/>
<path d="M1848.06 287.8L1862.46 287.8L1855.26 274.8Z" fill="#ff0000"/>
<path d="M1863.71 254.9L1878.12 254.9L1870.91 241.9Z" fill="#ff0000"/>
<path d="M1879.37 224.3L1893.77 224.3L1886.57 211.3Z" fill="#ff0000"/>
</g>
<path d="M1354.3 5.6v7.5M1354.3 406.1v-7.5M1401.26 5.6v3.8M1401.26 406.1v-3.8M1448.23 5.6v7.5M1448.23 406.1v-7.5M1495.19 5.6v3.8M1495.19 406.1v-3.8M1542.16 5.6v7.5M1542.16 406.1v-7.5M1589.12 5.6v3.8M1589.12 406.1v-3.8M1636.09 5.6v7.5M1636.09 406.1v-7.5M1683.05 5.6v3.8M1683.05 406.1v-3.8M1730.02 5.6v7.5M1730.02 406.1v-7.5M1776.98 5.6v3.8M1776.98 406.1v-3.8M1823.95 5.6v7.5M1823.95 406.1v-7.5M1870.91 5.6v3.8M1870.91 406.1v-3.8M1316.8 385.5h7.5M1892.9 385.5h-7.5M1316.8 353.84h3.8M1892.9 353.84h-3.8M1316.8 322.18h7.5M1892.9 322.18h-7.5M1316.8 290.52h3.8M1892.9 290.52h-3.8M1316.8 258.86h7.5M1892.9 258.86h-7.5M1316.8 227.2h3.8M1892.9 227.2h-3.8M1316.8 195.54h7.5M1892.9 195.54h-7.5M1316.8 163.88h3.8M1892.9 163.88h-3.8M1316.8 132.22h7.5M1892.9 132.22h-7.5M1316.8 100.56h3.8M1892.9 100.56h-3.8M1316.8 68.9h7.5M1892.9 68.9h-7.5M1316.8 37.24h3.8M1892.9 37.24h-3.8" stroke="#000" stroke-width="1.65" fill="none"/>
<rect x="1316.8" y="5.6" width="576.1" height="400.5" fill="none" stroke="#000" stroke-width="1.65"/>
<text transform="translate(1577.2 51.3) scale(1 1.1)" class="ft">5 <tspan dx="1.5">T</tspan></text>
<text transform="translate(1749.5 42) scale(1 1.04)" class="lg" style="font-size:27.6px"><tspan font-style="italic">T</tspan> (K)</text>
<path d="M1748.3 67H1771.9M1787.9 67H1811.7" stroke="#0000ff" stroke-width="2.0"/>
<path d="M1772.7 63.1L1787.1 63.1L1779.9 76.1Z" fill="#0000ff"/>
<text transform="translate(1819.2 76.1) scale(1 1.08)" class="lg">8</text>
<path d="M1748.3 101.4H1771.9M1787.9 101.4H1811.7" stroke="#087a14" stroke-width="2.0"/>
<circle cx="1779.9" cy="101.5" r="5.7" fill="#087a14"/>
<text transform="translate(1819.2 110.5) scale(1 1.08)" class="lg">10</text>
<path d="M1748.3 135.8H1771.9M1787.9 135.8H1811.7" stroke="#ff0000" stroke-width="2.0"/>
<path d="M1772.7 140.3L1787.1 140.3L1779.9 127.3Z" fill="#ff0000"/>
<text transform="translate(1819.2 144.9) scale(1 1.08)" class="lg">12</text>
<text x="1859.8" y="43.7" class="pl">C</text>
<g clip-path="url(#c01)">
<path d="M127.74 751.34L129.9 749.72M160.75 752.83L175.16 752.83M189.54 758.85L193.34 762.71M205.17 774.77L209.01 778.69M237.59 787.84L239.21 788.92M363.2 826.13L364.08 826.63M643.94 786.74L646.92 784.12" fill="none" stroke="#000090" stroke-width="1.75"/>
<path d="M115.34 753.35L126.64 753.35L120.99 763.65Z" fill="none" stroke="#000090" stroke-width="2.1" stroke-linejoin="miter"/>
<path d="M131 741.55L142.3 741.55L136.65 751.85Z" fill="none" stroke="#000090" stroke-width="2.1" stroke-linejoin="miter"/>
<path d="M146.65 749.75L157.95 749.75L152.3 760.05Z" fill="none" stroke="#000090" stroke-width="2.1" stroke-linejoin="miter"/>
<path d="M177.96 749.75L189.26 749.75L183.61 760.05Z" fill="none" stroke="#000090" stroke-width="2.1" stroke-linejoin="miter"/>
<path d="M193.62 765.65L204.92 765.65L199.27 775.95Z" fill="none" stroke="#000090" stroke-width="2.1" stroke-linejoin="miter"/>
<path d="M209.27 781.65L220.57 781.65L214.92 791.95Z" fill="none" stroke="#000090" stroke-width="2.1" stroke-linejoin="miter"/>
<path d="M224.92 780.05L236.22 780.05L230.57 790.35Z" fill="none" stroke="#000090" stroke-width="2.1" stroke-linejoin="miter"/>
<path d="M240.58 790.55L251.88 790.55L246.23 800.85Z" fill="none" stroke="#000090" stroke-width="2.1" stroke-linejoin="miter"/>
<path d="M256.24 794.85L267.53 794.85L261.88 805.15Z" fill="none" stroke="#000090" stroke-width="2.1" stroke-linejoin="miter"/>
<path d="M271.89 802.85L283.19 802.85L277.54 813.15Z" fill="none" stroke="#000090" stroke-width="2.1" stroke-linejoin="miter"/>
<path d="M287.55 810.75L298.84 810.75L293.19 821.05Z" fill="none" stroke="#000090" stroke-width="2.1" stroke-linejoin="miter"/>
<path d="M303.2 812.25L314.5 812.25L308.85 822.55Z" fill="none" stroke="#000090" stroke-width="2.1" stroke-linejoin="miter"/>
<path d="M318.86 816.15L330.15 816.15L324.5 826.45Z" fill="none" stroke="#000090" stroke-width="2.1" stroke-linejoin="miter"/>
<path d="M334.51 821.65L345.81 821.65L340.16 831.95Z" fill="none" stroke="#000090" stroke-width="2.1" stroke-linejoin="miter"/>
<path d="M350.17 818.95L361.46 818.95L355.81 829.25Z" fill="none" stroke="#000090" stroke-width="2.1" stroke-linejoin="miter"/>
<path d="M365.82 827.65L377.12 827.65L371.47 837.95Z" fill="none" stroke="#000090" stroke-width="2.1" stroke-linejoin="miter"/>
<path d="M381.48 828.25L392.77 828.25L387.12 838.55Z" fill="none" stroke="#000090" stroke-width="2.1" stroke-linejoin="miter"/>
<path d="M397.13 829.15L408.43 829.15L402.78 839.45Z" fill="none" stroke="#000090" stroke-width="2.1" stroke-linejoin="miter"/>
<path d="M412.79 829.75L424.08 829.75L418.44 840.05Z" fill="none" stroke="#000090" stroke-width="2.1" stroke-linejoin="miter"/>
<path d="M428.44 829.75L439.74 829.75L434.09 840.05Z" fill="none" stroke="#000090" stroke-width="2.1" stroke-linejoin="miter"/>
<path d="M444.1 831.05L455.39 831.05L449.75 841.35Z" fill="none" stroke="#000090" stroke-width="2.1" stroke-linejoin="miter"/>
<path d="M459.75 826.25L471.05 826.25L465.4 836.55Z" fill="none" stroke="#000090" stroke-width="2.1" stroke-linejoin="miter"/>
<path d="M475.41 825.85L486.7 825.85L481.06 836.15Z" fill="none" stroke="#000090" stroke-width="2.1" stroke-linejoin="miter"/>
<path d="M491.06 822.75L502.36 822.75L496.71 833.05Z" fill="none" stroke="#000090" stroke-width="2.1" stroke-linejoin="miter"/>
<path d="M506.72 819.45L518.01 819.45L512.37 829.75Z" fill="none" stroke="#000090" stroke-width="2.1" stroke-linejoin="miter"/>
<path d="M522.37 819.55L533.67 819.55L528.02 829.85Z" fill="none" stroke="#000090" stroke-width="2.1" stroke-linejoin="miter"/>
<path d="M538.02 814.85L549.32 814.85L543.67 825.15Z" fill="none" stroke="#000090" stroke-width="2.1" stroke-linejoin="miter"/>
<path d="M553.68 813.55L564.98 813.55L559.33 823.85Z" fill="none" stroke="#000090" stroke-width="2.1" stroke-linejoin="miter"/>
<path d="M569.33 805.85L580.63 805.85L574.98 816.15Z" fill="none" stroke="#000090" stroke-width="2.1" stroke-linejoin="miter"/>
<path d="M584.99 805.25L596.29 805.25L590.64 815.55Z" fill="none" stroke="#000090" stroke-width="2.1" stroke-linejoin="miter"/>
<path d="M600.64 797.15L611.94 797.15L606.29 807.45Z" fill="none" stroke="#000090" stroke-width="2.1" stroke-linejoin="miter"/>
<path d="M616.3 795.55L627.6 795.55L621.95 805.85Z" fill="none" stroke="#000090" stroke-width="2.1" stroke-linejoin="miter"/>
<path d="M631.96 789.25L643.25 789.25L637.61 799.55Z" fill="none" stroke="#000090" stroke-width="2.1" stroke-linejoin="miter"/>
<path d="M647.61 775.45L658.91 775.45L653.26 785.75Z" fill="none" stroke="#000090" stroke-width="2.1" stroke-linejoin="miter"/>
<path d="M663.26 770.45L674.56 770.45L668.91 780.75Z" fill="none" stroke="#000090" stroke-width="2.1" stroke-linejoin="miter"/>
<path d="M678.92 765.75L690.22 765.75L684.57 776.05Z" fill="none" stroke="#000090" stroke-width="2.1" stroke-linejoin="miter"/>
<path d="M128.38 795L129.26 795.5M206.14 804.22L208.05 805.58M283.96 818.59L286.78 821.01M300.58 822.4L301.46 821.9M423.74 827.18L428.78 833.42M456.85 835.42L458.3 834.48" fill="none" stroke="#007070" stroke-width="1.75"/>
<circle cx="120.99" cy="790.9" r="4.6" fill="none" stroke="#007070" stroke-width="2.1"/>
<circle cx="136.65" cy="799.6" r="4.6" fill="none" stroke="#007070" stroke-width="2.1"/>
<circle cx="152.3" cy="793.8" r="4.6" fill="none" stroke="#007070" stroke-width="2.1"/>
<circle cx="167.96" cy="793.8" r="4.6" fill="none" stroke="#007070" stroke-width="2.1"/>
<circle cx="183.61" cy="796.4" r="4.6" fill="none" stroke="#007070" stroke-width="2.1"/>
<circle cx="199.27" cy="799.3" r="4.6" fill="none" stroke="#007070" stroke-width="2.1"/>
<circle cx="214.92" cy="810.5" r="4.6" fill="none" stroke="#007070" stroke-width="2.1"/>
<circle cx="230.57" cy="810.5" r="4.6" fill="none" stroke="#007070" stroke-width="2.1"/>
<circle cx="246.23" cy="807.9" r="4.6" fill="none" stroke="#007070" stroke-width="2.1"/>
<circle cx="261.88" cy="810.5" r="4.6" fill="none" stroke="#007070" stroke-width="2.1"/>
<circle cx="277.54" cy="813.1" r="4.6" fill="none" stroke="#007070" stroke-width="2.1"/>
<circle cx="293.19" cy="826.5" r="4.6" fill="none" stroke="#007070" stroke-width="2.1"/>
<circle cx="308.85" cy="817.8" r="4.6" fill="none" stroke="#007070" stroke-width="2.1"/>
<circle cx="324.5" cy="822" r="4.6" fill="none" stroke="#007070" stroke-width="2.1"/>
<circle cx="340.16" cy="820.7" r="4.6" fill="none" stroke="#007070" stroke-width="2.1"/>
<circle cx="355.81" cy="823.5" r="4.6" fill="none" stroke="#007070" stroke-width="2.1"/>
<circle cx="371.47" cy="831.6" r="4.6" fill="none" stroke="#007070" stroke-width="2.1"/>
<circle cx="387.12" cy="825.8" r="4.6" fill="none" stroke="#007070" stroke-width="2.1"/>
<circle cx="402.78" cy="826.4" r="4.6" fill="none" stroke="#007070" stroke-width="2.1"/>
<circle cx="418.44" cy="820.6" r="4.6" fill="none" stroke="#007070" stroke-width="2.1"/>
<circle cx="434.09" cy="840" r="4.6" fill="none" stroke="#007070" stroke-width="2.1"/>
<circle cx="449.75" cy="840" r="4.6" fill="none" stroke="#007070" stroke-width="2.1"/>
<circle cx="465.4" cy="829.9" r="4.6" fill="none" stroke="#007070" stroke-width="2.1"/>
<circle cx="481.06" cy="823.8" r="4.6" fill="none" stroke="#007070" stroke-width="2.1"/>
<circle cx="496.71" cy="829.2" r="4.6" fill="none" stroke="#007070" stroke-width="2.1"/>
<circle cx="512.37" cy="826" r="4.6" fill="none" stroke="#007070" stroke-width="2.1"/>
<circle cx="528.02" cy="827" r="4.6" fill="none" stroke="#007070" stroke-width="2.1"/>
<circle cx="543.67" cy="823.8" r="4.6" fill="none" stroke="#007070" stroke-width="2.1"/>
<circle cx="559.33" cy="821.2" r="4.6" fill="none" stroke="#007070" stroke-width="2.1"/>
<circle cx="574.98" cy="819" r="4.6" fill="none" stroke="#007070" stroke-width="2.1"/>
<circle cx="590.64" cy="813" r="4.6" fill="none" stroke="#007070" stroke-width="2.1"/>
<circle cx="606.29" cy="815.7" r="4.6" fill="none" stroke="#007070" stroke-width="2.1"/>
<circle cx="621.95" cy="810.7" r="4.6" fill="none" stroke="#007070" stroke-width="2.1"/>
<circle cx="637.61" cy="810.7" r="4.6" fill="none" stroke="#007070" stroke-width="2.1"/>
<circle cx="653.26" cy="808" r="4.6" fill="none" stroke="#007070" stroke-width="2.1"/>
<circle cx="668.91" cy="805.2" r="4.6" fill="none" stroke="#007070" stroke-width="2.1"/>
<circle cx="684.57" cy="804.7" r="4.6" fill="none" stroke="#007070" stroke-width="2.1"/>
<path d="M298.99 811.42L303.05 815.72M331.11 812.3L333.56 810.34M378.53 811.71L395.72 823.03M488.44 830.47L489.32 830.97M549.44 815.89L553.57 811.45M565.77 810.74L568.55 813.1" fill="none" stroke="#8b0000" stroke-width="1.75"/>
<path d="M146.65 776.85L157.95 776.85L152.3 766.55Z" fill="none" stroke="#8b0000" stroke-width="2.1" stroke-linejoin="miter"/>
<path d="M162.31 781.35L173.61 781.35L167.96 771.05Z" fill="none" stroke="#8b0000" stroke-width="2.1" stroke-linejoin="miter"/>
<path d="M177.96 776.85L189.26 776.85L183.61 766.55Z" fill="none" stroke="#8b0000" stroke-width="2.1" stroke-linejoin="miter"/>
<path d="M193.62 780.85L204.92 780.85L199.27 770.55Z" fill="none" stroke="#8b0000" stroke-width="2.1" stroke-linejoin="miter"/>
<path d="M209.27 785.25L220.57 785.25L214.92 774.95Z" fill="none" stroke="#8b0000" stroke-width="2.1" stroke-linejoin="miter"/>
<path d="M224.92 789.75L236.22 789.75L230.57 779.45Z" fill="none" stroke="#8b0000" stroke-width="2.1" stroke-linejoin="miter"/>
<path d="M240.58 793.65L251.88 793.65L246.23 783.35Z" fill="none" stroke="#8b0000" stroke-width="2.1" stroke-linejoin="miter"/>
<path d="M256.24 797.45L267.53 797.45L261.88 787.15Z" fill="none" stroke="#8b0000" stroke-width="2.1" stroke-linejoin="miter"/>
<path d="M262.5 799.95L273.8 799.95L268.15 789.65Z" fill="none" stroke="#8b0000" stroke-width="2.1" stroke-linejoin="miter"/>
<path d="M271.89 804.45L283.19 804.45L277.54 794.15Z" fill="none" stroke="#8b0000" stroke-width="2.1" stroke-linejoin="miter"/>
<path d="M287.55 808.35L298.84 808.35L293.19 798.05Z" fill="none" stroke="#8b0000" stroke-width="2.1" stroke-linejoin="miter"/>
<path d="M303.2 824.95L314.5 824.95L308.85 814.65Z" fill="none" stroke="#8b0000" stroke-width="2.1" stroke-linejoin="miter"/>
<path d="M318.86 820.65L330.15 820.65L324.5 810.35Z" fill="none" stroke="#8b0000" stroke-width="2.1" stroke-linejoin="miter"/>
<path d="M334.51 808.15L345.81 808.15L340.16 797.85Z" fill="none" stroke="#8b0000" stroke-width="2.1" stroke-linejoin="miter"/>
<path d="M350.17 808.05L361.46 808.05L355.81 797.75Z" fill="none" stroke="#8b0000" stroke-width="2.1" stroke-linejoin="miter"/>
<path d="M365.82 810.15L377.12 810.15L371.47 799.85Z" fill="none" stroke="#8b0000" stroke-width="2.1" stroke-linejoin="miter"/>
<path d="M397.13 830.75L408.43 830.75L402.78 820.45Z" fill="none" stroke="#8b0000" stroke-width="2.1" stroke-linejoin="miter"/>
<path d="M412.79 829.05L424.08 829.05L418.44 818.75Z" fill="none" stroke="#8b0000" stroke-width="2.1" stroke-linejoin="miter"/>
<path d="M428.44 829.25L439.74 829.25L434.09 818.95Z" fill="none" stroke="#8b0000" stroke-width="2.1" stroke-linejoin="miter"/>
<path d="M444.1 832.75L455.39 832.75L449.75 822.45Z" fill="none" stroke="#8b0000" stroke-width="2.1" stroke-linejoin="miter"/>
<path d="M459.75 836.55L471.05 836.55L465.4 826.25Z" fill="none" stroke="#8b0000" stroke-width="2.1" stroke-linejoin="miter"/>
<path d="M475.41 829.45L486.7 829.45L481.06 819.15Z" fill="none" stroke="#8b0000" stroke-width="2.1" stroke-linejoin="miter"/>
<path d="M491.06 838.15L502.36 838.15L496.71 827.85Z" fill="none" stroke="#8b0000" stroke-width="2.1" stroke-linejoin="miter"/>
<path d="M506.72 829.95L518.01 829.95L512.37 819.65Z" fill="none" stroke="#8b0000" stroke-width="2.1" stroke-linejoin="miter"/>
<path d="M522.37 831.55L533.67 831.55L528.02 821.25Z" fill="none" stroke="#8b0000" stroke-width="2.1" stroke-linejoin="miter"/>
<path d="M538.02 825.15L549.32 825.15L543.67 814.85Z" fill="none" stroke="#8b0000" stroke-width="2.1" stroke-linejoin="miter"/>
<path d="M553.68 808.35L564.98 808.35L559.33 798.05Z" fill="none" stroke="#8b0000" stroke-width="2.1" stroke-linejoin="miter"/>
<path d="M569.33 821.65L580.63 821.65L574.98 811.35Z" fill="none" stroke="#8b0000" stroke-width="2.1" stroke-linejoin="miter"/>
<path d="M584.99 817.25L596.29 817.25L590.64 806.95Z" fill="none" stroke="#8b0000" stroke-width="2.1" stroke-linejoin="miter"/>
<path d="M600.64 817.25L611.94 817.25L606.29 806.95Z" fill="none" stroke="#8b0000" stroke-width="2.1" stroke-linejoin="miter"/>
<path d="M616.3 813.35L627.6 813.35L621.95 803.05Z" fill="none" stroke="#8b0000" stroke-width="2.1" stroke-linejoin="miter"/>
<path d="M631.96 809.45L643.25 809.45L637.61 799.15Z" fill="none" stroke="#8b0000" stroke-width="2.1" stroke-linejoin="miter"/>
<path d="M647.61 802.25L658.91 802.25L653.26 791.95Z" fill="none" stroke="#8b0000" stroke-width="2.1" stroke-linejoin="miter"/>
<path d="M663.26 796.25L674.56 796.25L668.91 785.95Z" fill="none" stroke="#8b0000" stroke-width="2.1" stroke-linejoin="miter"/>
<path d="M678.92 796.25L690.22 796.25L684.57 785.95Z" fill="none" stroke="#8b0000" stroke-width="2.1" stroke-linejoin="miter"/>
</g>
<path d="M152.3 431.3v7.5M152.3 832v-7.5M199.27 431.3v3.8M199.27 832v-3.8M246.23 431.3v7.5M246.23 832v-7.5M293.19 431.3v3.8M293.19 832v-3.8M340.16 431.3v7.5M340.16 832v-7.5M387.12 431.3v3.8M387.12 832v-3.8M434.09 431.3v7.5M434.09 832v-7.5M481.06 431.3v3.8M481.06 832v-3.8M528.02 431.3v7.5M528.02 832v-7.5M574.98 431.3v3.8M574.98 832v-3.8M621.95 431.3v7.5M621.95 832v-7.5M668.91 431.3v3.8M668.91 832v-3.8M115.2 832h7.5M691.1 832h-7.5M115.2 795.53h3.8M691.1 795.53h-3.8M115.2 759.06h7.5M691.1 759.06h-7.5M115.2 722.59h3.8M691.1 722.59h-3.8M115.2 686.12h7.5M691.1 686.12h-7.5M115.2 649.65h3.8M691.1 649.65h-3.8M115.2 613.18h7.5M691.1 613.18h-7.5M115.2 576.71h3.8M691.1 576.71h-3.8M115.2 540.24h7.5M691.1 540.24h-7.5M115.2 503.77h3.8M691.1 503.77h-3.8M115.2 467.3h7.5M691.1 467.3h-7.5" stroke="#000" stroke-width="1.65" fill="none"/>
<rect x="115.2" y="431.3" width="575.9" height="400.7" fill="none" stroke="#000" stroke-width="1.65"/>
<text transform="translate(106.9 841.6) scale(1 1.06)" text-anchor="end" class="tk">1.00</text>
<text transform="translate(106.9 768.66) scale(1 1.06)" text-anchor="end" class="tk">1.10</text>
<text transform="translate(106.9 695.72) scale(1 1.06)" text-anchor="end" class="tk">1.20</text>
<text transform="translate(106.9 622.78) scale(1 1.06)" text-anchor="end" class="tk">1.30</text>
<text transform="translate(106.9 549.84) scale(1 1.06)" text-anchor="end" class="tk">1.40</text>
<text transform="translate(106.9 476.9) scale(1 1.06)" text-anchor="end" class="tk">1.50</text>
<text transform="translate(152.3 861.7) scale(1 1.06)" text-anchor="middle" class="tk">0</text>
<text transform="translate(246.23 861.7) scale(1 1.06)" text-anchor="middle" class="tk">30</text>
<text transform="translate(340.16 861.7) scale(1 1.06)" text-anchor="middle" class="tk">60</text>
<text transform="translate(434.09 861.7) scale(1 1.06)" text-anchor="middle" class="tk">90</text>
<text transform="translate(528.02 861.7) scale(1 1.06)" text-anchor="middle" class="tk">120</text>
<text transform="translate(621.95 861.7) scale(1 1.06)" text-anchor="middle" class="tk">150</text>
<text transform="translate(366.9 924) scale(1.18 1)" class="at" style="font-size:40.5px;font-style:italic">θ</text>
<text x="396.8" y="924" class="at">(°)</text>
<text transform="translate(374.5 476.5) scale(1 1.1)" class="ft">0.5 <tspan dx="1.35">T</tspan></text>
<text transform="translate(546.8 467.2) scale(1 1.04)" class="lg" style="font-size:27.6px"><tspan font-style="italic">T</tspan> (K)</text>
<path d="M545.6 493.2H569.2M585.2 493.2H609" stroke="#000090" stroke-width="2.0"/>
<path d="M571.55 489.95L582.85 489.95L577.2 500.25Z" fill="none" stroke="#000090" stroke-width="2.1" stroke-linejoin="miter"/>
<text transform="translate(616.5 501.3) scale(1 1.08)" class="lg">8</text>
<path d="M545.6 527.6H569.2M585.2 527.6H609" stroke="#007070" stroke-width="2.0"/>
<circle cx="577.2" cy="527.6" r="4.6" fill="none" stroke="#007070" stroke-width="2.1"/>
<text transform="translate(616.5 535.7) scale(1 1.08)" class="lg">10</text>
<path d="M545.6 562H569.2M585.2 562H609" stroke="#8b0000" stroke-width="2.0"/>
<path d="M571.55 566L582.85 566L577.2 555.7Z" fill="none" stroke="#8b0000" stroke-width="2.1" stroke-linejoin="miter"/>
<text transform="translate(616.5 570.1) scale(1 1.08)" class="lg">12</text>
<text x="657.1" y="468.9" class="pl">D</text>
<g clip-path="url(#c11)">
<path d="M727.07 604.95L732.37 598.11M742.88 584.88L747.86 578.78M758.54 578.78L763.52 584.88M772.84 598.88L780.53 613.28M787.52 628.62L797.15 653.84M803.6 669.45L812.39 689.21M821.42 703.26L825.88 708.3M836.73 721.25L841.87 727.71M852.16 741.12L857.75 748.64M869.35 760.75L871.88 762.81M884.94 773.53L887.59 775.73M901.34 785.48L902.51 786.18M915.64 796.59L919.51 800.57M1167.02 797.7L1169.1 796.16M1183.09 786.71L1184.34 785.95M1198.25 776.39L1200.49 774.67M1214.01 764.53L1216.04 763.03M1229.58 752.92L1231.78 751.24M1243.25 739.14L1249.42 730.02M1260.07 716.99L1263.91 713.07M1273.95 699.66L1281.34 686.5" fill="none" stroke="#000090" stroke-width="1.75"/>
<path d="M716.24 608.55L727.54 608.55L721.89 618.85Z" fill="none" stroke="#000090" stroke-width="2.1" stroke-linejoin="miter"/>
<path d="M731.9 588.35L743.2 588.35L737.55 598.65Z" fill="none" stroke="#000090" stroke-width="2.1" stroke-linejoin="miter"/>
<path d="M747.55 569.15L758.85 569.15L753.2 579.45Z" fill="none" stroke="#000090" stroke-width="2.1" stroke-linejoin="miter"/>
<path d="M763.21 588.35L774.5 588.35L768.86 598.65Z" fill="none" stroke="#000090" stroke-width="2.1" stroke-linejoin="miter"/>
<path d="M778.86 617.65L790.16 617.65L784.51 627.95Z" fill="none" stroke="#000090" stroke-width="2.1" stroke-linejoin="miter"/>
<path d="M794.52 658.65L805.82 658.65L800.17 668.95Z" fill="none" stroke="#000090" stroke-width="2.1" stroke-linejoin="miter"/>
<path d="M810.17 693.85L821.47 693.85L815.82 704.15Z" fill="none" stroke="#000090" stroke-width="2.1" stroke-linejoin="miter"/>
<path d="M825.83 711.55L837.12 711.55L831.48 721.85Z" fill="none" stroke="#000090" stroke-width="2.1" stroke-linejoin="miter"/>
<path d="M841.48 731.25L852.78 731.25L847.13 741.55Z" fill="none" stroke="#000090" stroke-width="2.1" stroke-linejoin="miter"/>
<path d="M857.14 752.35L868.44 752.35L862.79 762.65Z" fill="none" stroke="#000090" stroke-width="2.1" stroke-linejoin="miter"/>
<path d="M872.79 765.05L884.09 765.05L878.44 775.35Z" fill="none" stroke="#000090" stroke-width="2.1" stroke-linejoin="miter"/>
<path d="M888.45 778.05L899.75 778.05L894.1 788.35Z" fill="none" stroke="#000090" stroke-width="2.1" stroke-linejoin="miter"/>
<path d="M904.1 787.45L915.4 787.45L909.75 797.75Z" fill="none" stroke="#000090" stroke-width="2.1" stroke-linejoin="miter"/>
<path d="M919.75 803.55L931.05 803.55L925.4 813.85Z" fill="none" stroke="#000090" stroke-width="2.1" stroke-linejoin="miter"/>
<path d="M935.41 809.35L946.71 809.35L941.06 819.65Z" fill="none" stroke="#000090" stroke-width="2.1" stroke-linejoin="miter"/>
<path d="M951.07 815.05L962.37 815.05L956.72 825.35Z" fill="none" stroke="#000090" stroke-width="2.1" stroke-linejoin="miter"/>
<path d="M966.72 819.55L978.02 819.55L972.37 829.85Z" fill="none" stroke="#000090" stroke-width="2.1" stroke-linejoin="miter"/>
<path d="M982.38 824.75L993.68 824.75L988.03 835.05Z" fill="none" stroke="#000090" stroke-width="2.1" stroke-linejoin="miter"/>
<path d="M998.03 829.35L1009.33 829.35L1003.68 839.65Z" fill="none" stroke="#000090" stroke-width="2.1" stroke-linejoin="miter"/>
<path d="M1013.69 829.85L1024.99 829.85L1019.34 840.15Z" fill="none" stroke="#000090" stroke-width="2.1" stroke-linejoin="miter"/>
<path d="M1029.34 824.85L1040.64 824.85L1034.99 835.15Z" fill="none" stroke="#000090" stroke-width="2.1" stroke-linejoin="miter"/>
<path d="M1044.99 830.15L1056.3 830.15L1050.64 840.45Z" fill="none" stroke="#000090" stroke-width="2.1" stroke-linejoin="miter"/>
<path d="M1060.65 826.45L1071.95 826.45L1066.3 836.75Z" fill="none" stroke="#000090" stroke-width="2.1" stroke-linejoin="miter"/>
<path d="M1076.3 826.45L1087.61 826.45L1081.95 836.75Z" fill="none" stroke="#000090" stroke-width="2.1" stroke-linejoin="miter"/>
<path d="M1091.96 818.75L1103.26 818.75L1097.61 829.05Z" fill="none" stroke="#000090" stroke-width="2.1" stroke-linejoin="miter"/>
<path d="M1107.62 815.95L1118.92 815.95L1113.27 826.25Z" fill="none" stroke="#000090" stroke-width="2.1" stroke-linejoin="miter"/>
<path d="M1123.27 812.85L1134.57 812.85L1128.92 823.15Z" fill="none" stroke="#000090" stroke-width="2.1" stroke-linejoin="miter"/>
<path d="M1138.92 805.45L1150.23 805.45L1144.58 815.75Z" fill="none" stroke="#000090" stroke-width="2.1" stroke-linejoin="miter"/>
<path d="M1154.58 799.65L1165.88 799.65L1160.23 809.95Z" fill="none" stroke="#000090" stroke-width="2.1" stroke-linejoin="miter"/>
<path d="M1170.23 788.05L1181.54 788.05L1175.88 798.35Z" fill="none" stroke="#000090" stroke-width="2.1" stroke-linejoin="miter"/>
<path d="M1185.89 778.45L1197.19 778.45L1191.54 788.75Z" fill="none" stroke="#000090" stroke-width="2.1" stroke-linejoin="miter"/>
<path d="M1201.54 766.45L1212.85 766.45L1207.19 776.75Z" fill="none" stroke="#000090" stroke-width="2.1" stroke-linejoin="miter"/>
<path d="M1217.2 754.95L1228.5 754.95L1222.85 765.25Z" fill="none" stroke="#000090" stroke-width="2.1" stroke-linejoin="miter"/>
<path d="M1232.86 743.05L1244.16 743.05L1238.51 753.35Z" fill="none" stroke="#000090" stroke-width="2.1" stroke-linejoin="miter"/>
<path d="M1248.51 719.95L1259.81 719.95L1254.16 730.25Z" fill="none" stroke="#000090" stroke-width="2.1" stroke-linejoin="miter"/>
<path d="M1264.16 703.95L1275.47 703.95L1269.82 714.25Z" fill="none" stroke="#000090" stroke-width="2.1" stroke-linejoin="miter"/>
<path d="M1279.82 676.05L1291.12 676.05L1285.47 686.35Z" fill="none" stroke="#000090" stroke-width="2.1" stroke-linejoin="miter"/>
<path d="M743.49 645.3L747.25 641.5M757.88 642.53L764.17 651.97M775.58 664.11L777.78 665.79M789.28 677.88L795.4 686.82M806 699.91L809.99 704.09M820.55 717.2L826.75 726.4M837.25 739.56L841.35 743.94M854.42 754.38L855.5 755.02M869.99 763.72L871.24 764.48M884.56 774.73L887.97 777.97M916.48 794.51L918.68 796.19M1073.48 825.55L1074.77 824.75M1119.33 826.11L1122.86 822.69M1136.25 812.59L1137.25 812.01M1166.53 805.47L1169.59 802.73M1198.35 784.9L1200.38 783.4M1214.46 774.08L1215.59 773.42M1243.59 754.85L1249.08 747.55M1260.01 734.71L1263.96 730.59M1275.65 718.39L1279.64 714.21" fill="none" stroke="#007070" stroke-width="1.75"/>
<circle cx="737.55" cy="651.3" r="4.6" fill="none" stroke="#007070" stroke-width="2.1"/>
<circle cx="753.2" cy="635.5" r="4.6" fill="none" stroke="#007070" stroke-width="2.1"/>
<circle cx="768.86" cy="659" r="4.6" fill="none" stroke="#007070" stroke-width="2.1"/>
<circle cx="784.51" cy="670.9" r="4.6" fill="none" stroke="#007070" stroke-width="2.1"/>
<circle cx="800.17" cy="693.8" r="4.6" fill="none" stroke="#007070" stroke-width="2.1"/>
<circle cx="815.82" cy="710.2" r="4.6" fill="none" stroke="#007070" stroke-width="2.1"/>
<circle cx="831.48" cy="733.4" r="4.6" fill="none" stroke="#007070" stroke-width="2.1"/>
<circle cx="847.13" cy="750.1" r="4.6" fill="none" stroke="#007070" stroke-width="2.1"/>
<circle cx="862.79" cy="759.3" r="4.6" fill="none" stroke="#007070" stroke-width="2.1"/>
<circle cx="878.44" cy="768.9" r="4.6" fill="none" stroke="#007070" stroke-width="2.1"/>
<circle cx="894.1" cy="783.8" r="4.6" fill="none" stroke="#007070" stroke-width="2.1"/>
<circle cx="909.75" cy="789.4" r="4.6" fill="none" stroke="#007070" stroke-width="2.1"/>
<circle cx="925.4" cy="801.3" r="4.6" fill="none" stroke="#007070" stroke-width="2.1"/>
<circle cx="941.06" cy="809.1" r="4.6" fill="none" stroke="#007070" stroke-width="2.1"/>
<circle cx="956.72" cy="810.5" r="4.6" fill="none" stroke="#007070" stroke-width="2.1"/>
<circle cx="972.37" cy="815.7" r="4.6" fill="none" stroke="#007070" stroke-width="2.1"/>
<circle cx="988.03" cy="820" r="4.6" fill="none" stroke="#007070" stroke-width="2.1"/>
<circle cx="1003.68" cy="825.3" r="4.6" fill="none" stroke="#007070" stroke-width="2.1"/>
<circle cx="1019.34" cy="831.9" r="4.6" fill="none" stroke="#007070" stroke-width="2.1"/>
<circle cx="1034.99" cy="827.6" r="4.6" fill="none" stroke="#007070" stroke-width="2.1"/>
<circle cx="1050.64" cy="824.9" r="4.6" fill="none" stroke="#007070" stroke-width="2.1"/>
<circle cx="1066.3" cy="830" r="4.6" fill="none" stroke="#007070" stroke-width="2.1"/>
<circle cx="1081.95" cy="820.3" r="4.6" fill="none" stroke="#007070" stroke-width="2.1"/>
<circle cx="1097.61" cy="825.8" r="4.6" fill="none" stroke="#007070" stroke-width="2.1"/>
<circle cx="1113.27" cy="832" r="4.6" fill="none" stroke="#007070" stroke-width="2.1"/>
<circle cx="1128.92" cy="816.8" r="4.6" fill="none" stroke="#007070" stroke-width="2.1"/>
<circle cx="1144.58" cy="807.8" r="4.6" fill="none" stroke="#007070" stroke-width="2.1"/>
<circle cx="1160.23" cy="811.1" r="4.6" fill="none" stroke="#007070" stroke-width="2.1"/>
<circle cx="1175.88" cy="797.1" r="4.6" fill="none" stroke="#007070" stroke-width="2.1"/>
<circle cx="1191.54" cy="789.9" r="4.6" fill="none" stroke="#007070" stroke-width="2.1"/>
<circle cx="1207.19" cy="778.4" r="4.6" fill="none" stroke="#007070" stroke-width="2.1"/>
<circle cx="1222.85" cy="769.1" r="4.6" fill="none" stroke="#007070" stroke-width="2.1"/>
<circle cx="1238.51" cy="761.6" r="4.6" fill="none" stroke="#007070" stroke-width="2.1"/>
<circle cx="1254.16" cy="740.8" r="4.6" fill="none" stroke="#007070" stroke-width="2.1"/>
<circle cx="1269.82" cy="724.5" r="4.6" fill="none" stroke="#007070" stroke-width="2.1"/>
<circle cx="1285.47" cy="708.1" r="4.6" fill="none" stroke="#007070" stroke-width="2.1"/>
<path d="M773.95 723.61L779.41 730.83M805.64 748.41L810.34 753.93M823.19 764.51L824.11 765.03M838.82 773.35L839.78 773.89M899.57 787.71L904.27 793.23M917.16 803.74L918 804.2M979.76 821.57L980.64 822.07M995.29 821.85L996.42 821.19M1103.07 826.12L1107.81 820.52M1182.49 809.8L1184.94 807.84M1198.14 797.3L1200.59 795.34M1229.45 785.8L1231.9 783.84M1261.34 771.22L1262.63 770.42M1277.1 761.69L1278.18 761.05" fill="none" stroke="#8b0000" stroke-width="1.75"/>
<path d="M731.9 725.35L743.2 725.35L737.55 715.05Z" fill="none" stroke="#8b0000" stroke-width="2.1" stroke-linejoin="miter"/>
<path d="M747.55 725.35L758.85 725.35L753.2 715.05Z" fill="none" stroke="#8b0000" stroke-width="2.1" stroke-linejoin="miter"/>
<path d="M763.21 719.95L774.5 719.95L768.86 709.65Z" fill="none" stroke="#8b0000" stroke-width="2.1" stroke-linejoin="miter"/>
<path d="M778.86 740.65L790.16 740.65L784.51 730.35Z" fill="none" stroke="#8b0000" stroke-width="2.1" stroke-linejoin="miter"/>
<path d="M794.52 745.05L805.82 745.05L800.17 734.75Z" fill="none" stroke="#8b0000" stroke-width="2.1" stroke-linejoin="miter"/>
<path d="M810.17 763.45L821.47 763.45L815.82 753.15Z" fill="none" stroke="#8b0000" stroke-width="2.1" stroke-linejoin="miter"/>
<path d="M825.83 772.25L837.12 772.25L831.48 761.95Z" fill="none" stroke="#8b0000" stroke-width="2.1" stroke-linejoin="miter"/>
<path d="M841.48 781.15L852.78 781.15L847.13 770.85Z" fill="none" stroke="#8b0000" stroke-width="2.1" stroke-linejoin="miter"/>
<path d="M857.14 785.15L868.44 785.15L862.79 774.85Z" fill="none" stroke="#8b0000" stroke-width="2.1" stroke-linejoin="miter"/>
<path d="M872.79 787.55L884.09 787.55L878.44 777.25Z" fill="none" stroke="#8b0000" stroke-width="2.1" stroke-linejoin="miter"/>
<path d="M888.45 784.35L899.75 784.35L894.1 774.05Z" fill="none" stroke="#8b0000" stroke-width="2.1" stroke-linejoin="miter"/>
<path d="M904.1 802.75L915.4 802.75L909.75 792.45Z" fill="none" stroke="#8b0000" stroke-width="2.1" stroke-linejoin="miter"/>
<path d="M919.75 811.35L931.05 811.35L925.4 801.05Z" fill="none" stroke="#8b0000" stroke-width="2.1" stroke-linejoin="miter"/>
<path d="M935.41 814.45L946.71 814.45L941.06 804.15Z" fill="none" stroke="#8b0000" stroke-width="2.1" stroke-linejoin="miter"/>
<path d="M951.07 817.95L962.37 817.95L956.72 807.65Z" fill="none" stroke="#8b0000" stroke-width="2.1" stroke-linejoin="miter"/>
<path d="M966.72 820.55L978.02 820.55L972.37 810.25Z" fill="none" stroke="#8b0000" stroke-width="2.1" stroke-linejoin="miter"/>
<path d="M982.38 829.25L993.68 829.25L988.03 818.95Z" fill="none" stroke="#8b0000" stroke-width="2.1" stroke-linejoin="miter"/>
<path d="M998.03 819.95L1009.33 819.95L1003.68 809.65Z" fill="none" stroke="#8b0000" stroke-width="2.1" stroke-linejoin="miter"/>
<path d="M1013.69 826.35L1024.99 826.35L1019.34 816.05Z" fill="none" stroke="#8b0000" stroke-width="2.1" stroke-linejoin="miter"/>
<path d="M1029.34 823.45L1040.64 823.45L1034.99 813.15Z" fill="none" stroke="#8b0000" stroke-width="2.1" stroke-linejoin="miter"/>
<path d="M1044.99 829.45L1056.3 829.45L1050.64 819.15Z" fill="none" stroke="#8b0000" stroke-width="2.1" stroke-linejoin="miter"/>
<path d="M1060.65 835.65L1071.95 835.65L1066.3 825.35Z" fill="none" stroke="#8b0000" stroke-width="2.1" stroke-linejoin="miter"/>
<path d="M1076.3 829.45L1087.61 829.45L1081.95 819.15Z" fill="none" stroke="#8b0000" stroke-width="2.1" stroke-linejoin="miter"/>
<path d="M1091.96 835.65L1103.26 835.65L1097.61 825.35Z" fill="none" stroke="#8b0000" stroke-width="2.1" stroke-linejoin="miter"/>
<path d="M1107.62 817.15L1118.92 817.15L1113.27 806.85Z" fill="none" stroke="#8b0000" stroke-width="2.1" stroke-linejoin="miter"/>
<path d="M1123.27 811.15L1134.57 811.15L1128.92 800.85Z" fill="none" stroke="#8b0000" stroke-width="2.1" stroke-linejoin="miter"/>
<path d="M1138.92 818.75L1150.23 818.75L1144.58 808.45Z" fill="none" stroke="#8b0000" stroke-width="2.1" stroke-linejoin="miter"/>
<path d="M1154.58 823.95L1165.88 823.95L1160.23 813.65Z" fill="none" stroke="#8b0000" stroke-width="2.1" stroke-linejoin="miter"/>
<path d="M1170.23 818.15L1181.54 818.15L1175.88 807.85Z" fill="none" stroke="#8b0000" stroke-width="2.1" stroke-linejoin="miter"/>
<path d="M1185.89 805.65L1197.19 805.65L1191.54 795.35Z" fill="none" stroke="#8b0000" stroke-width="2.1" stroke-linejoin="miter"/>
<path d="M1201.54 793.15L1212.85 793.15L1207.19 782.85Z" fill="none" stroke="#8b0000" stroke-width="2.1" stroke-linejoin="miter"/>
<path d="M1217.2 794.15L1228.5 794.15L1222.85 783.85Z" fill="none" stroke="#8b0000" stroke-width="2.1" stroke-linejoin="miter"/>
<path d="M1232.86 781.65L1244.16 781.65L1238.51 771.35Z" fill="none" stroke="#8b0000" stroke-width="2.1" stroke-linejoin="miter"/>
<path d="M1248.51 778.75L1259.81 778.75L1254.16 768.45Z" fill="none" stroke="#8b0000" stroke-width="2.1" stroke-linejoin="miter"/>
<path d="M1264.16 769.05L1275.47 769.05L1269.82 758.75Z" fill="none" stroke="#8b0000" stroke-width="2.1" stroke-linejoin="miter"/>
<path d="M1279.82 759.85L1291.12 759.85L1285.47 749.55Z" fill="none" stroke="#8b0000" stroke-width="2.1" stroke-linejoin="miter"/>
</g>
<path d="M753.2 431.3v7.5M753.2 832v-7.5M800.17 431.3v3.8M800.17 832v-3.8M847.13 431.3v7.5M847.13 832v-7.5M894.1 431.3v3.8M894.1 832v-3.8M941.06 431.3v7.5M941.06 832v-7.5M988.03 431.3v3.8M988.03 832v-3.8M1034.99 431.3v7.5M1034.99 832v-7.5M1081.95 431.3v3.8M1081.95 832v-3.8M1128.92 431.3v7.5M1128.92 832v-7.5M1175.88 431.3v3.8M1175.88 832v-3.8M1222.85 431.3v7.5M1222.85 832v-7.5M1269.82 431.3v3.8M1269.82 832v-3.8M715.8 832h7.5M1291.8 832h-7.5M715.8 795.53h3.8M1291.8 795.53h-3.8M715.8 759.06h7.5M1291.8 759.06h-7.5M715.8 722.59h3.8M1291.8 722.59h-3.8M715.8 686.12h7.5M1291.8 686.12h-7.5M715.8 649.65h3.8M1291.8 649.65h-3.8M715.8 613.18h7.5M1291.8 613.18h-7.5M715.8 576.71h3.8M1291.8 576.71h-3.8M715.8 540.24h7.5M1291.8 540.24h-7.5M715.8 503.77h3.8M1291.8 503.77h-3.8M715.8 467.3h7.5M1291.8 467.3h-7.5" stroke="#000" stroke-width="1.65" fill="none"/>
<rect x="715.8" y="431.3" width="576" height="400.7" fill="none" stroke="#000" stroke-width="1.65"/>
<text transform="translate(753.2 861.7) scale(1 1.06)" text-anchor="middle" class="tk">0</text>
<text transform="translate(847.13 861.7) scale(1 1.06)" text-anchor="middle" class="tk">30</text>
<text transform="translate(941.06 861.7) scale(1 1.06)" text-anchor="middle" class="tk">60</text>
<text transform="translate(1034.99 861.7) scale(1 1.06)" text-anchor="middle" class="tk">90</text>
<text transform="translate(1128.92 861.7) scale(1 1.06)" text-anchor="middle" class="tk">120</text>
<text transform="translate(1222.85 861.7) scale(1 1.06)" text-anchor="middle" class="tk">150</text>
<text transform="translate(967.5 924) scale(1.18 1)" class="at" style="font-size:40.5px;font-style:italic">θ</text>
<text x="997.4" y="924" class="at">(°)</text>
<text transform="translate(975.6 476.9) scale(1 1.1)" class="ft">2 <tspan dx="1.5">T</tspan></text>
<text transform="translate(1147.9 467.6) scale(1 1.04)" class="lg" style="font-size:27.6px"><tspan font-style="italic">T</tspan> (K)</text>
<path d="M1146.7 493.6H1170.3M1186.3 493.6H1210.1" stroke="#000090" stroke-width="2.0"/>
<path d="M1172.65 490.35L1183.95 490.35L1178.3 500.65Z" fill="none" stroke="#000090" stroke-width="2.1" stroke-linejoin="miter"/>
<text transform="translate(1217.6 501.7) scale(1 1.08)" class="lg">8</text>
<path d="M1146.7 528H1170.3M1186.3 528H1210.1" stroke="#007070" stroke-width="2.0"/>
<circle cx="1178.3" cy="528" r="4.6" fill="none" stroke="#007070" stroke-width="2.1"/>
<text transform="translate(1217.6 536.1) scale(1 1.08)" class="lg">10</text>
<path d="M1146.7 562.4H1170.3M1186.3 562.4H1210.1" stroke="#8b0000" stroke-width="2.0"/>
<path d="M1172.65 566.4L1183.95 566.4L1178.3 556.1Z" fill="none" stroke="#8b0000" stroke-width="2.1" stroke-linejoin="miter"/>
<text transform="translate(1217.6 570.5) scale(1 1.08)" class="lg">12</text>
<text x="1258.2" y="469.3" class="pl">E</text>
<g clip-path="url(#c21)">
<path d="M1325.92 534.11L1335.71 507.65M1340.71 491.54L1352.23 445.92M1356.97 445.75L1367.28 476.71M1371.8 492.98L1383.76 546.28M1387.7 562.72L1399.18 607.74M1405.16 623.43L1413.02 638.53M1420.24 653.8L1429.26 674.96M1436.47 690.23L1444.33 705.33M1453.92 719.08L1458.2 723.78M1469.09 736.68L1474.33 743.38M1485.1 756.39L1489.63 761.57M1500.48 774.52L1505.56 780.84M1533.09 787.33L1535.58 785.33M1545.46 787.81L1554.51 809.15M1751.8 800.1L1755.21 796.86M1782.64 777.05L1786.99 772.21M1797.77 759.21L1803.17 752.15M1814.11 739.3L1818.13 735.06M1828.69 721.94L1834.86 712.82M1843.62 698.39L1851.25 684.27M1858.74 669.13L1867.43 649.93M1875.25 634.98L1882.24 623.28" fill="none" stroke="#000090" stroke-width="1.75"/>
<path d="M1317.34 538.95L1328.64 538.95L1322.99 549.25Z" fill="none" stroke="#000090" stroke-width="2.1" stroke-linejoin="miter"/>
<path d="M1332.99 496.65L1344.3 496.65L1338.64 506.95Z" fill="none" stroke="#000090" stroke-width="2.1" stroke-linejoin="miter"/>
<path d="M1348.65 434.65L1359.95 434.65L1354.3 444.95Z" fill="none" stroke="#000090" stroke-width="2.1" stroke-linejoin="miter"/>
<path d="M1364.3 481.65L1375.61 481.65L1369.95 491.95Z" fill="none" stroke="#000090" stroke-width="2.1" stroke-linejoin="miter"/>
<path d="M1379.96 551.45L1391.26 551.45L1385.61 561.75Z" fill="none" stroke="#000090" stroke-width="2.1" stroke-linejoin="miter"/>
<path d="M1395.61 612.85L1406.91 612.85L1401.26 623.15Z" fill="none" stroke="#000090" stroke-width="2.1" stroke-linejoin="miter"/>
<path d="M1411.27 642.95L1422.57 642.95L1416.92 653.25Z" fill="none" stroke="#000090" stroke-width="2.1" stroke-linejoin="miter"/>
<path d="M1426.92 679.65L1438.23 679.65L1432.58 689.95Z" fill="none" stroke="#000090" stroke-width="2.1" stroke-linejoin="miter"/>
<path d="M1442.58 709.75L1453.88 709.75L1448.23 720.05Z" fill="none" stroke="#000090" stroke-width="2.1" stroke-linejoin="miter"/>
<path d="M1458.23 726.95L1469.54 726.95L1463.88 737.25Z" fill="none" stroke="#000090" stroke-width="2.1" stroke-linejoin="miter"/>
<path d="M1473.89 746.95L1485.19 746.95L1479.54 757.25Z" fill="none" stroke="#000090" stroke-width="2.1" stroke-linejoin="miter"/>
<path d="M1489.54 764.85L1500.85 764.85L1495.19 775.15Z" fill="none" stroke="#000090" stroke-width="2.1" stroke-linejoin="miter"/>
<path d="M1505.2 784.35L1516.5 784.35L1510.85 794.65Z" fill="none" stroke="#000090" stroke-width="2.1" stroke-linejoin="miter"/>
<path d="M1520.85 789.55L1532.15 789.55L1526.5 799.85Z" fill="none" stroke="#000090" stroke-width="2.1" stroke-linejoin="miter"/>
<path d="M1536.51 776.95L1547.81 776.95L1542.16 787.25Z" fill="none" stroke="#000090" stroke-width="2.1" stroke-linejoin="miter"/>
<path d="M1552.16 813.85L1563.47 813.85L1557.82 824.15Z" fill="none" stroke="#000090" stroke-width="2.1" stroke-linejoin="miter"/>
<path d="M1567.82 818.25L1579.12 818.25L1573.47 828.55Z" fill="none" stroke="#000090" stroke-width="2.1" stroke-linejoin="miter"/>
<path d="M1583.47 821.85L1594.78 821.85L1589.12 832.15Z" fill="none" stroke="#000090" stroke-width="2.1" stroke-linejoin="miter"/>
<path d="M1599.13 829.45L1610.43 829.45L1604.78 839.75Z" fill="none" stroke="#000090" stroke-width="2.1" stroke-linejoin="miter"/>
<path d="M1614.78 826.35L1626.09 826.35L1620.43 836.65Z" fill="none" stroke="#000090" stroke-width="2.1" stroke-linejoin="miter"/>
<path d="M1630.44 829.45L1641.74 829.45L1636.09 839.75Z" fill="none" stroke="#000090" stroke-width="2.1" stroke-linejoin="miter"/>
<path d="M1646.09 829.45L1657.39 829.45L1651.74 839.75Z" fill="none" stroke="#000090" stroke-width="2.1" stroke-linejoin="miter"/>
<path d="M1661.75 829.45L1673.05 829.45L1667.4 839.75Z" fill="none" stroke="#000090" stroke-width="2.1" stroke-linejoin="miter"/>
<path d="M1677.4 824.45L1688.7 824.45L1683.05 834.75Z" fill="none" stroke="#000090" stroke-width="2.1" stroke-linejoin="miter"/>
<path d="M1693.06 819.35L1704.36 819.35L1698.71 829.65Z" fill="none" stroke="#000090" stroke-width="2.1" stroke-linejoin="miter"/>
<path d="M1708.71 812.05L1720.02 812.05L1714.37 822.35Z" fill="none" stroke="#000090" stroke-width="2.1" stroke-linejoin="miter"/>
<path d="M1724.37 809.05L1735.67 809.05L1730.02 819.35Z" fill="none" stroke="#000090" stroke-width="2.1" stroke-linejoin="miter"/>
<path d="M1740.02 802.85L1751.33 802.85L1745.67 813.15Z" fill="none" stroke="#000090" stroke-width="2.1" stroke-linejoin="miter"/>
<path d="M1755.68 787.95L1766.98 787.95L1761.33 798.25Z" fill="none" stroke="#000090" stroke-width="2.1" stroke-linejoin="miter"/>
<path d="M1771.33 780.25L1782.63 780.25L1776.98 790.55Z" fill="none" stroke="#000090" stroke-width="2.1" stroke-linejoin="miter"/>
<path d="M1786.99 762.85L1798.29 762.85L1792.64 773.15Z" fill="none" stroke="#000090" stroke-width="2.1" stroke-linejoin="miter"/>
<path d="M1802.64 742.35L1813.94 742.35L1808.29 752.65Z" fill="none" stroke="#000090" stroke-width="2.1" stroke-linejoin="miter"/>
<path d="M1818.3 725.85L1829.6 725.85L1823.95 736.15Z" fill="none" stroke="#000090" stroke-width="2.1" stroke-linejoin="miter"/>
<path d="M1833.95 702.75L1845.26 702.75L1839.61 713.05Z" fill="none" stroke="#000090" stroke-width="2.1" stroke-linejoin="miter"/>
<path d="M1849.61 673.75L1860.91 673.75L1855.26 684.05Z" fill="none" stroke="#000090" stroke-width="2.1" stroke-linejoin="miter"/>
<path d="M1865.26 639.15L1876.57 639.15L1870.91 649.45Z" fill="none" stroke="#000090" stroke-width="2.1" stroke-linejoin="miter"/>
<path d="M1880.92 612.95L1892.22 612.95L1886.57 623.25Z" fill="none" stroke="#000090" stroke-width="2.1" stroke-linejoin="miter"/>
<path d="M1325.74 597.21L1335.89 567.79M1342.15 552.11L1350.79 533.19M1358.75 532.69L1365.51 543.61M1372.37 558.9L1383.19 595.1M1388.23 611.24L1398.65 643.26M1406.01 658.29L1412.18 667.41M1420.96 681.82L1428.54 695.78M1437.39 710.15L1443.42 718.85M1453.44 732.45L1458.68 739.15M1468.63 752.79L1474.8 761.91M1500.83 777.8L1505.22 782.7M1517.05 794.74L1520.31 797.76M1547.69 809.89L1552.29 815.21M1595.69 828.62L1598.22 830.68M1674.62 831.62L1675.83 830.88M1719.77 826.11L1724.61 820.29M1751.31 808.8L1755.7 803.9M1767.61 791.94L1770.71 789.16M1782.67 777.25L1786.95 772.55M1797.85 759.65L1803.09 752.95M1815.11 741.3L1817.14 739.8M1828.35 727.58L1835.21 716.32M1843.38 701.54L1851.48 685.36M1858.48 669.99L1867.7 647.61M1875.77 632.88L1881.71 624.42" fill="none" stroke="#007070" stroke-width="1.75"/>
<circle cx="1322.99" cy="605.2" r="4.6" fill="none" stroke="#007070" stroke-width="2.1"/>
<circle cx="1338.64" cy="559.8" r="4.6" fill="none" stroke="#007070" stroke-width="2.1"/>
<circle cx="1354.3" cy="525.5" r="4.6" fill="none" stroke="#007070" stroke-width="2.1"/>
<circle cx="1369.95" cy="550.8" r="4.6" fill="none" stroke="#007070" stroke-width="2.1"/>
<circle cx="1385.61" cy="603.2" r="4.6" fill="none" stroke="#007070" stroke-width="2.1"/>
<circle cx="1401.26" cy="651.3" r="4.6" fill="none" stroke="#007070" stroke-width="2.1"/>
<circle cx="1416.92" cy="674.4" r="4.6" fill="none" stroke="#007070" stroke-width="2.1"/>
<circle cx="1432.58" cy="703.2" r="4.6" fill="none" stroke="#007070" stroke-width="2.1"/>
<circle cx="1448.23" cy="725.8" r="4.6" fill="none" stroke="#007070" stroke-width="2.1"/>
<circle cx="1463.88" cy="745.8" r="4.6" fill="none" stroke="#007070" stroke-width="2.1"/>
<circle cx="1479.54" cy="768.9" r="4.6" fill="none" stroke="#007070" stroke-width="2.1"/>
<circle cx="1495.19" cy="771.5" r="4.6" fill="none" stroke="#007070" stroke-width="2.1"/>
<circle cx="1510.85" cy="789" r="4.6" fill="none" stroke="#007070" stroke-width="2.1"/>
<circle cx="1526.5" cy="803.5" r="4.6" fill="none" stroke="#007070" stroke-width="2.1"/>
<circle cx="1542.16" cy="803.5" r="4.6" fill="none" stroke="#007070" stroke-width="2.1"/>
<circle cx="1557.82" cy="821.6" r="4.6" fill="none" stroke="#007070" stroke-width="2.1"/>
<circle cx="1573.47" cy="820.1" r="4.6" fill="none" stroke="#007070" stroke-width="2.1"/>
<circle cx="1589.12" cy="823.3" r="4.6" fill="none" stroke="#007070" stroke-width="2.1"/>
<circle cx="1604.78" cy="836" r="4.6" fill="none" stroke="#007070" stroke-width="2.1"/>
<circle cx="1620.43" cy="836" r="4.6" fill="none" stroke="#007070" stroke-width="2.1"/>
<circle cx="1636.09" cy="836" r="4.6" fill="none" stroke="#007070" stroke-width="2.1"/>
<circle cx="1651.74" cy="836" r="4.6" fill="none" stroke="#007070" stroke-width="2.1"/>
<circle cx="1667.4" cy="836" r="4.6" fill="none" stroke="#007070" stroke-width="2.1"/>
<circle cx="1683.05" cy="826.5" r="4.6" fill="none" stroke="#007070" stroke-width="2.1"/>
<circle cx="1698.71" cy="826" r="4.6" fill="none" stroke="#007070" stroke-width="2.1"/>
<circle cx="1714.37" cy="832.6" r="4.6" fill="none" stroke="#007070" stroke-width="2.1"/>
<circle cx="1730.02" cy="813.8" r="4.6" fill="none" stroke="#007070" stroke-width="2.1"/>
<circle cx="1745.67" cy="815.1" r="4.6" fill="none" stroke="#007070" stroke-width="2.1"/>
<circle cx="1761.33" cy="797.6" r="4.6" fill="none" stroke="#007070" stroke-width="2.1"/>
<circle cx="1776.98" cy="783.5" r="4.6" fill="none" stroke="#007070" stroke-width="2.1"/>
<circle cx="1792.64" cy="766.3" r="4.6" fill="none" stroke="#007070" stroke-width="2.1"/>
<circle cx="1808.29" cy="746.3" r="4.6" fill="none" stroke="#007070" stroke-width="2.1"/>
<circle cx="1823.95" cy="734.8" r="4.6" fill="none" stroke="#007070" stroke-width="2.1"/>
<circle cx="1839.61" cy="709.1" r="4.6" fill="none" stroke="#007070" stroke-width="2.1"/>
<circle cx="1855.26" cy="677.8" r="4.6" fill="none" stroke="#007070" stroke-width="2.1"/>
<circle cx="1870.91" cy="639.8" r="4.6" fill="none" stroke="#007070" stroke-width="2.1"/>
<circle cx="1886.57" cy="617.5" r="4.6" fill="none" stroke="#007070" stroke-width="2.1"/>
<path d="M1359.26 647.51L1365 655.43M1374.59 669.34L1380.98 679.1M1390.61 692.98L1396.26 700.66M1405.37 714.86L1412.82 728.28M1423.2 741.33L1426.3 744.11M1437.61 756.56L1443.2 764.08M1454.03 777.02L1458.09 781.32M1798.19 784.99L1802.75 779.75M1814.67 767.83L1817.57 765.31M1830.29 754.18L1833.27 751.56M1843.36 738.4L1851.51 721.94M1861.54 708.71L1864.64 705.93M1877.19 694.61L1880.29 691.83" fill="none" stroke="#8b0000" stroke-width="1.75"/>
<path d="M1317.34 654.05L1328.64 654.05L1322.99 643.75Z" fill="none" stroke="#8b0000" stroke-width="2.1" stroke-linejoin="miter"/>
<path d="M1332.99 646.85L1344.3 646.85L1338.64 636.55Z" fill="none" stroke="#8b0000" stroke-width="2.1" stroke-linejoin="miter"/>
<path d="M1348.65 643.75L1359.95 643.75L1354.3 633.45Z" fill="none" stroke="#8b0000" stroke-width="2.1" stroke-linejoin="miter"/>
<path d="M1364.3 665.35L1375.61 665.35L1369.95 655.05Z" fill="none" stroke="#8b0000" stroke-width="2.1" stroke-linejoin="miter"/>
<path d="M1379.96 689.25L1391.26 689.25L1385.61 678.95Z" fill="none" stroke="#8b0000" stroke-width="2.1" stroke-linejoin="miter"/>
<path d="M1395.61 710.55L1406.91 710.55L1401.26 700.25Z" fill="none" stroke="#8b0000" stroke-width="2.1" stroke-linejoin="miter"/>
<path d="M1411.27 738.75L1422.57 738.75L1416.92 728.45Z" fill="none" stroke="#8b0000" stroke-width="2.1" stroke-linejoin="miter"/>
<path d="M1426.92 752.85L1438.23 752.85L1432.58 742.55Z" fill="none" stroke="#8b0000" stroke-width="2.1" stroke-linejoin="miter"/>
<path d="M1442.58 773.95L1453.88 773.95L1448.23 763.65Z" fill="none" stroke="#8b0000" stroke-width="2.1" stroke-linejoin="miter"/>
<path d="M1458.23 790.55L1469.54 790.55L1463.88 780.25Z" fill="none" stroke="#8b0000" stroke-width="2.1" stroke-linejoin="miter"/>
<path d="M1473.89 797.75L1485.19 797.75L1479.54 787.45Z" fill="none" stroke="#8b0000" stroke-width="2.1" stroke-linejoin="miter"/>
<path d="M1489.54 804.95L1500.85 804.95L1495.19 794.65Z" fill="none" stroke="#8b0000" stroke-width="2.1" stroke-linejoin="miter"/>
<path d="M1505.2 811.35L1516.5 811.35L1510.85 801.05Z" fill="none" stroke="#8b0000" stroke-width="2.1" stroke-linejoin="miter"/>
<path d="M1520.85 818.55L1532.15 818.55L1526.5 808.25Z" fill="none" stroke="#8b0000" stroke-width="2.1" stroke-linejoin="miter"/>
<path d="M1536.51 825.15L1547.81 825.15L1542.16 814.85Z" fill="none" stroke="#8b0000" stroke-width="2.1" stroke-linejoin="miter"/>
<path d="M1552.16 828.55L1563.47 828.55L1557.82 818.25Z" fill="none" stroke="#8b0000" stroke-width="2.1" stroke-linejoin="miter"/>
<path d="M1567.82 831.95L1579.12 831.95L1573.47 821.65Z" fill="none" stroke="#8b0000" stroke-width="2.1" stroke-linejoin="miter"/>
<path d="M1583.47 831.95L1594.78 831.95L1589.12 821.65Z" fill="none" stroke="#8b0000" stroke-width="2.1" stroke-linejoin="miter"/>
<path d="M1599.13 835.45L1610.43 835.45L1604.78 825.15Z" fill="none" stroke="#8b0000" stroke-width="2.1" stroke-linejoin="miter"/>
<path d="M1614.78 835.45L1626.09 835.45L1620.43 825.15Z" fill="none" stroke="#8b0000" stroke-width="2.1" stroke-linejoin="miter"/>
<path d="M1630.44 835.45L1641.74 835.45L1636.09 825.15Z" fill="none" stroke="#8b0000" stroke-width="2.1" stroke-linejoin="miter"/>
<path d="M1646.09 835.45L1657.39 835.45L1651.74 825.15Z" fill="none" stroke="#8b0000" stroke-width="2.1" stroke-linejoin="miter"/>
<path d="M1661.75 831.95L1673.05 831.95L1667.4 821.65Z" fill="none" stroke="#8b0000" stroke-width="2.1" stroke-linejoin="miter"/>
<path d="M1677.4 831.95L1688.7 831.95L1683.05 821.65Z" fill="none" stroke="#8b0000" stroke-width="2.1" stroke-linejoin="miter"/>
<path d="M1693.06 828.55L1704.36 828.55L1698.71 818.25Z" fill="none" stroke="#8b0000" stroke-width="2.1" stroke-linejoin="miter"/>
<path d="M1708.71 825.85L1720.02 825.85L1714.37 815.55Z" fill="none" stroke="#8b0000" stroke-width="2.1" stroke-linejoin="miter"/>
<path d="M1724.37 818.85L1735.67 818.85L1730.02 808.55Z" fill="none" stroke="#8b0000" stroke-width="2.1" stroke-linejoin="miter"/>
<path d="M1740.02 811.65L1751.33 811.65L1745.67 801.35Z" fill="none" stroke="#8b0000" stroke-width="2.1" stroke-linejoin="miter"/>
<path d="M1755.68 808.55L1766.98 808.55L1761.33 798.25Z" fill="none" stroke="#8b0000" stroke-width="2.1" stroke-linejoin="miter"/>
<path d="M1771.33 801.35L1782.63 801.35L1776.98 791.05Z" fill="none" stroke="#8b0000" stroke-width="2.1" stroke-linejoin="miter"/>
<path d="M1786.99 794.45L1798.29 794.45L1792.64 784.15Z" fill="none" stroke="#8b0000" stroke-width="2.1" stroke-linejoin="miter"/>
<path d="M1802.64 776.45L1813.94 776.45L1808.29 766.15Z" fill="none" stroke="#8b0000" stroke-width="2.1" stroke-linejoin="miter"/>
<path d="M1818.3 762.85L1829.6 762.85L1823.95 752.55Z" fill="none" stroke="#8b0000" stroke-width="2.1" stroke-linejoin="miter"/>
<path d="M1833.95 749.05L1845.26 749.05L1839.61 738.75Z" fill="none" stroke="#8b0000" stroke-width="2.1" stroke-linejoin="miter"/>
<path d="M1849.61 717.45L1860.91 717.45L1855.26 707.15Z" fill="none" stroke="#8b0000" stroke-width="2.1" stroke-linejoin="miter"/>
<path d="M1865.26 703.35L1876.57 703.35L1870.91 693.05Z" fill="none" stroke="#8b0000" stroke-width="2.1" stroke-linejoin="miter"/>
<path d="M1880.92 689.25L1892.22 689.25L1886.57 678.95Z" fill="none" stroke="#8b0000" stroke-width="2.1" stroke-linejoin="miter"/>
</g>
<path d="M1354.3 431.3v7.5M1354.3 832v-7.5M1401.26 431.3v3.8M1401.26 832v-3.8M1448.23 431.3v7.5M1448.23 832v-7.5M1495.19 431.3v3.8M1495.19 832v-3.8M1542.16 431.3v7.5M1542.16 832v-7.5M1589.12 431.3v3.8M1589.12 832v-3.8M1636.09 431.3v7.5M1636.09 832v-7.5M1683.05 431.3v3.8M1683.05 832v-3.8M1730.02 431.3v7.5M1730.02 832v-7.5M1776.98 431.3v3.8M1776.98 832v-3.8M1823.95 431.3v7.5M1823.95 832v-7.5M1870.91 431.3v3.8M1870.91 832v-3.8M1316.8 832h7.5M1892.9 832h-7.5M1316.8 795.53h3.8M1892.9 795.53h-3.8M1316.8 759.06h7.5M1892.9 759.06h-7.5M1316.8 722.59h3.8M1892.9 722.59h-3.8M1316.8 686.12h7.5M1892.9 686.12h-7.5M1316.8 649.65h3.8M1892.9 649.65h-3.8M1316.8 613.18h7.5M1892.9 613.18h-7.5M1316.8 576.71h3.8M1892.9 576.71h-3.8M1316.8 540.24h7.5M1892.9 540.24h-7.5M1316.8 503.77h3.8M1892.9 503.77h-3.8M1316.8 467.3h7.5M1892.9 467.3h-7.5" stroke="#000" stroke-width="1.65" fill="none"/>
<rect x="1316.8" y="431.3" width="576.1" height="400.7" fill="none" stroke="#000" stroke-width="1.65"/>
<text transform="translate(1354.3 861.7) scale(1 1.06)" text-anchor="middle" class="tk">0</text>
<text transform="translate(1448.23 861.7) scale(1 1.06)" text-anchor="middle" class="tk">30</text>
<text transform="translate(1542.16 861.7) scale(1 1.06)" text-anchor="middle" class="tk">60</text>
<text transform="translate(1636.09 861.7) scale(1 1.06)" text-anchor="middle" class="tk">90</text>
<text transform="translate(1730.02 861.7) scale(1 1.06)" text-anchor="middle" class="tk">120</text>
<text transform="translate(1823.95 861.7) scale(1 1.06)" text-anchor="middle" class="tk">150</text>
<text transform="translate(1568.5 924) scale(1.18 1)" class="at" style="font-size:40.5px;font-style:italic">θ</text>
<text x="1598.4" y="924" class="at">(°)</text>
<text transform="translate(1577.2 477) scale(1 1.1)" class="ft">5 <tspan dx="1.5">T</tspan></text>
<text transform="translate(1749.5 467.7) scale(1 1.04)" class="lg" style="font-size:27.6px"><tspan font-style="italic">T</tspan> (K)</text>
<path d="M1748.3 493.7H1771.9M1787.9 493.7H1811.7" stroke="#000090" stroke-width="2.0"/>
<path d="M1774.25 490.45L1785.55 490.45L1779.9 500.75Z" fill="none" stroke="#000090" stroke-width="2.1" stroke-linejoin="miter"/>
<text transform="translate(1819.2 501.8) scale(1 1.08)" class="lg">8</text>
<path d="M1748.3 528.1H1771.9M1787.9 528.1H1811.7" stroke="#007070" stroke-width="2.0"/>
<circle cx="1779.9" cy="528.1" r="4.6" fill="none" stroke="#007070" stroke-width="2.1"/>
<text transform="translate(1819.2 536.2) scale(1 1.08)" class="lg">10</text>
<path d="M1748.3 562.5H1771.9M1787.9 562.5H1811.7" stroke="#8b0000" stroke-width="2.0"/>
<path d="M1774.25 566.5L1785.55 566.5L1779.9 556.2Z" fill="none" stroke="#8b0000" stroke-width="2.1" stroke-linejoin="miter"/>
<text transform="translate(1819.2 570.6) scale(1 1.08)" class="lg">12</text>
<text x="1859.8" y="469.4" class="pl">F</text>
<g transform="translate(34.2 372) rotate(-90)" class="at">
<text transform="translate(0.8 0) scale(1.05 1)" style="font-size:43.5px;font-style:italic">I</text>
<text x="15.3" y="14.5" style="font-size:23px">c</text>
<text x="37.3" y="0">/</text>
<text transform="translate(59 0) scale(1.05 1)" style="font-size:43.5px;font-style:italic">I</text>
<text x="74.1" y="14.5" style="font-size:23px">c</text>
<text x="84.2" y="0" style="letter-spacing:0.3px">(90°)</text>
<text x="182.5" y="0" style="letter-spacing:0.3px">(a.u.)</text>
</g>
<g transform="translate(39.4 807.9) rotate(-90)" class="at">
<text transform="translate(0.8 0) scale(1.05 1)" style="font-size:43.5px;font-style:italic">I</text>
<text x="18.3" y="0">*</text>
<text x="47.6" y="0">/</text>
<text transform="translate(64.8 0) scale(1.05 1)" style="font-size:43.5px;font-style:italic">I</text>
<text x="79.1" y="0">*</text>
<text x="105.3" y="0" style="letter-spacing:0.3px">(90°)</text>
<text x="203.4" y="0" style="letter-spacing:0.3px">(a.u.)</text>
</g>
</svg>
</body></html>
